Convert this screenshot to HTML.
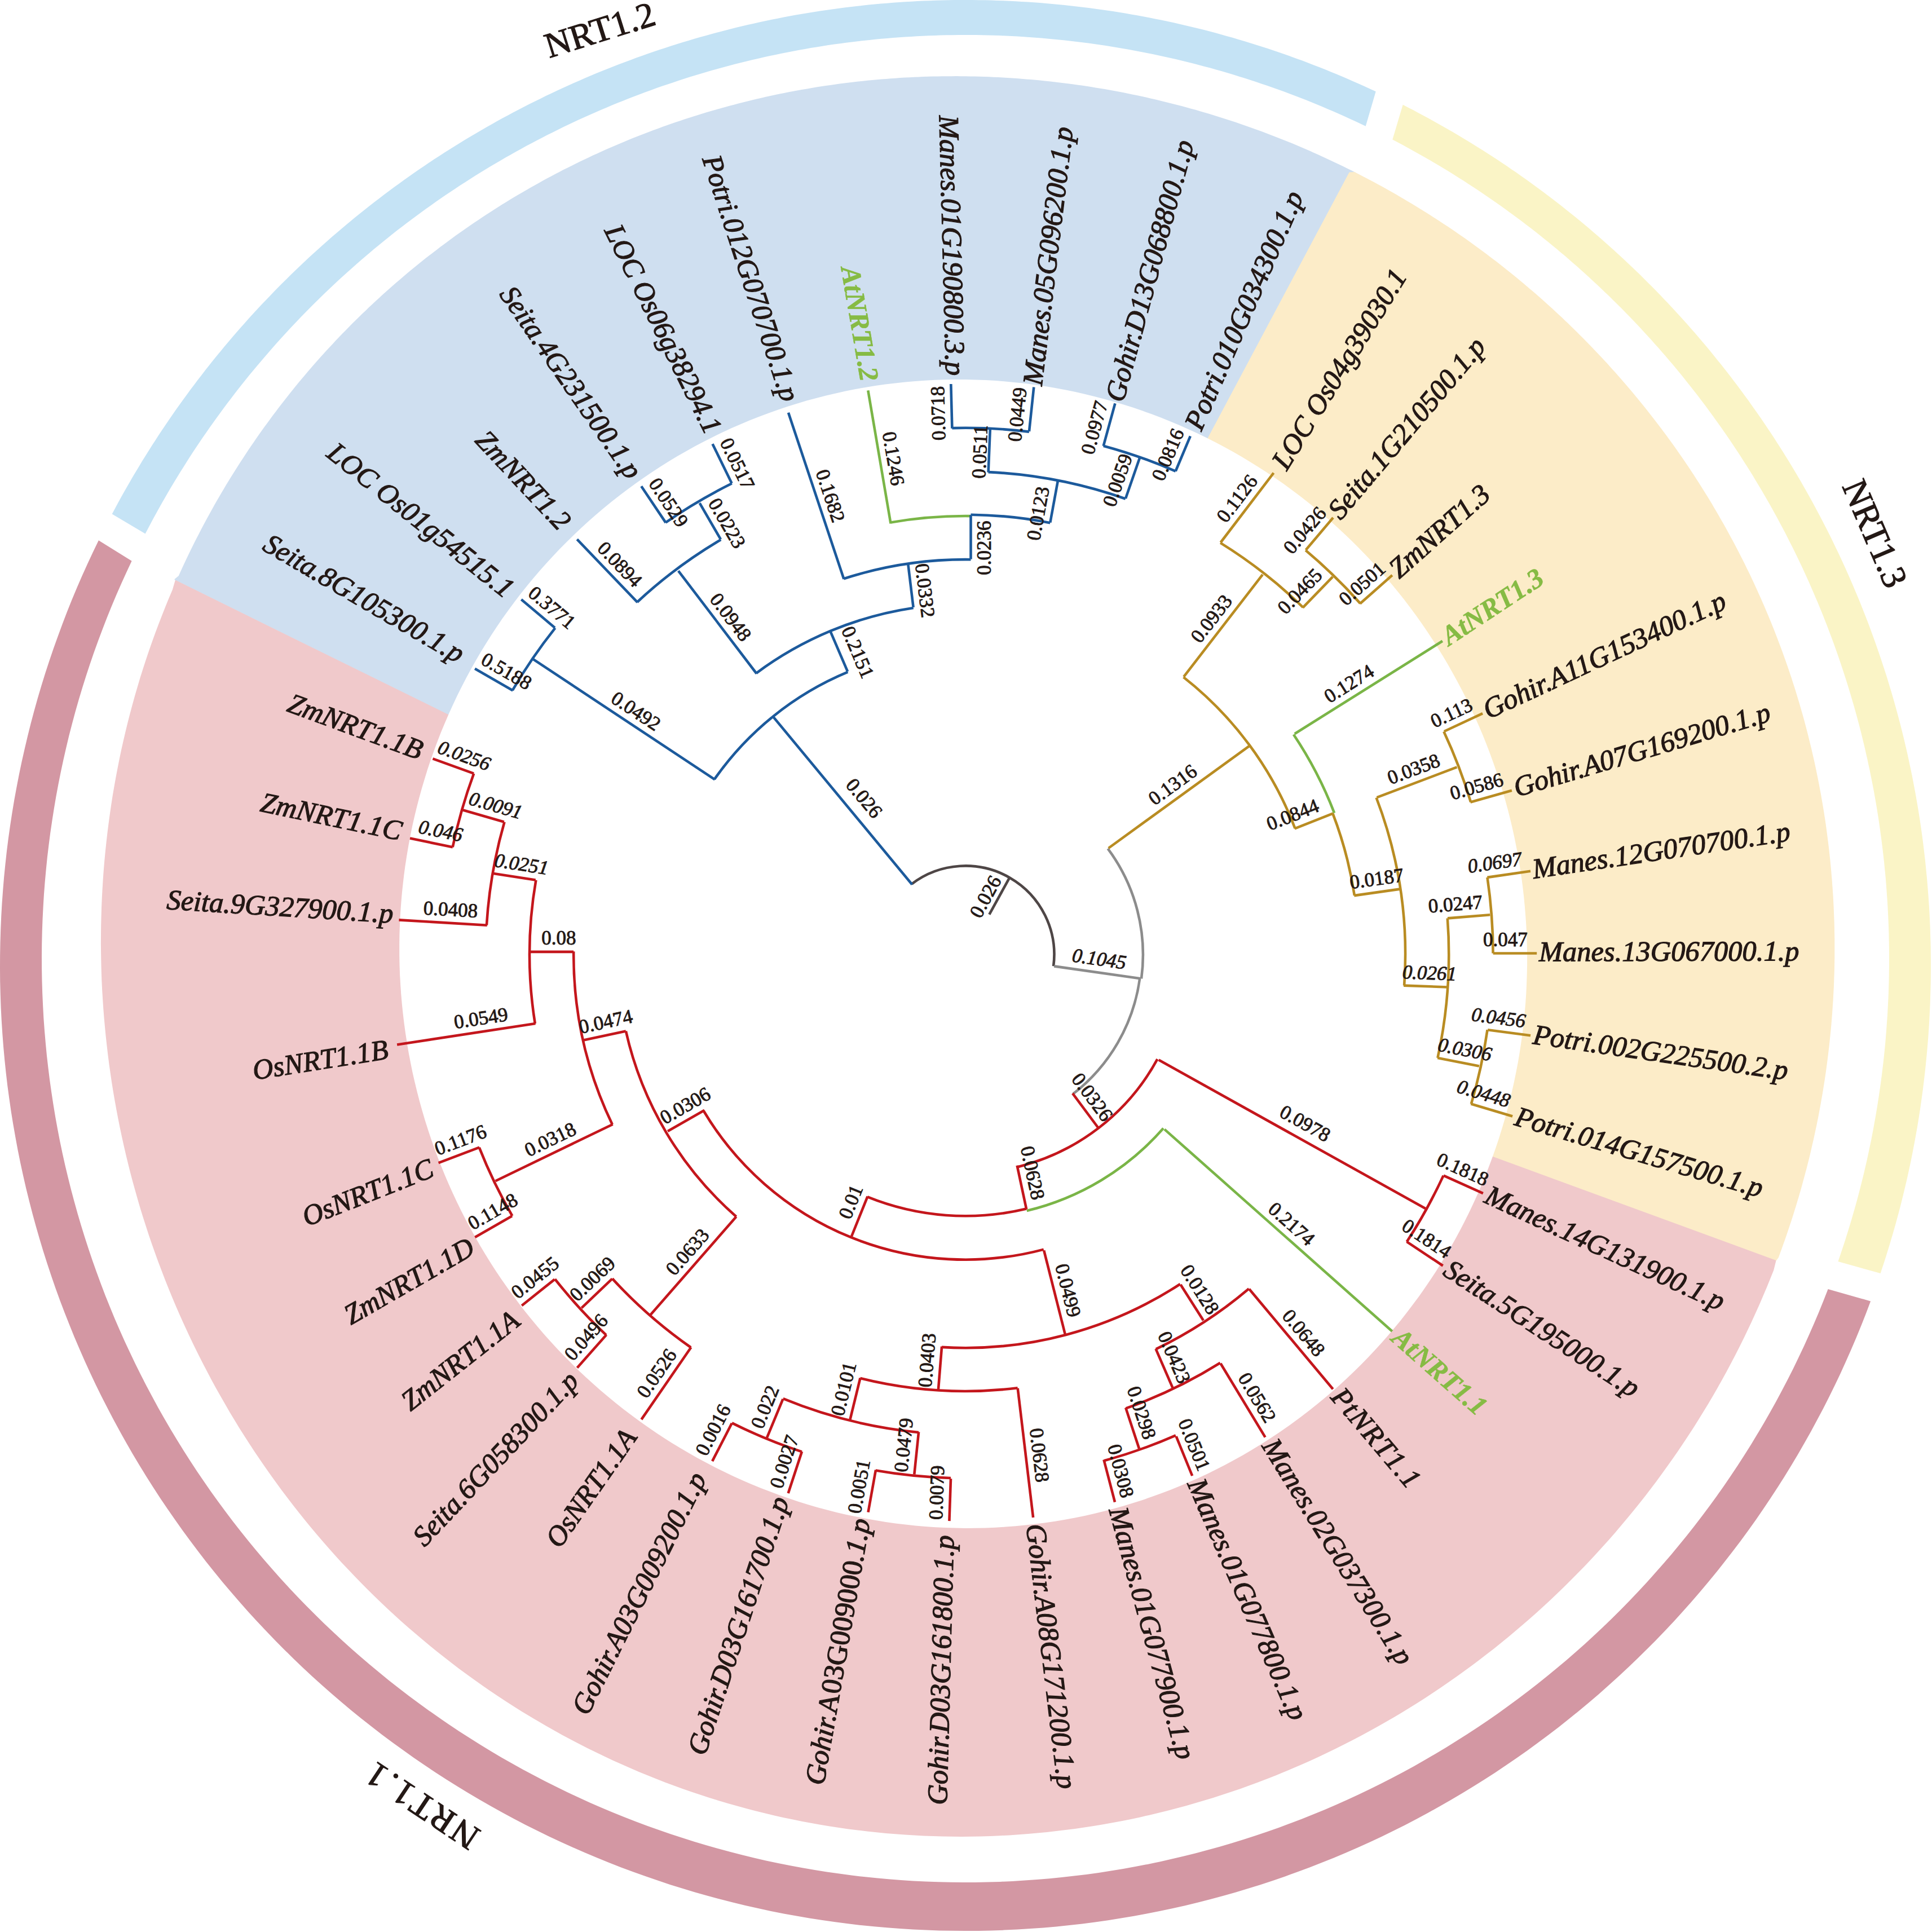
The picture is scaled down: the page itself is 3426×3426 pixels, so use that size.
<!DOCTYPE html><html><head><meta charset="utf-8"><style>html,body{margin:0;padding:0;background:#fff}svg{display:block}.t{font-family:"Liberation Serif",serif;font-size:50.5px;font-style:italic;fill:#231815;stroke:#231815;stroke-width:1.2px}.g{font-family:"Liberation Serif",serif;font-size:49px;font-style:italic;font-weight:bold;fill:#86bb44;stroke:#86bb44;stroke-width:0.6px}.b{font-family:"Liberation Serif",serif;font-size:35px;fill:#231815;stroke:#231815;stroke-width:0.9px;text-anchor:middle;dominant-baseline:central}.h{font-family:"Liberation Serif",serif;font-size:63px;fill:#231815;stroke:#231815;stroke-width:1.2px;text-anchor:middle}</style></head><body>
<svg width="3426" height="3426" viewBox="0 0 3426 3426">
<rect width="3426" height="3426" fill="#ffffff"/>
<path fill="#c5e3f5" d="M198.7,911.5 L203.8,901.9 L209.0,892.3 L214.2,882.8 L219.5,873.3 L224.8,863.9 L230.3,854.5 L235.7,845.1 L241.3,835.7 L246.9,826.4 L252.5,817.1 L258.2,807.9 L264.0,798.7 L269.8,789.5 L275.7,780.4 L281.6,771.3 L287.6,762.2 L293.7,753.2 L299.8,744.2 L306.0,735.3 L312.2,726.3 L318.5,717.5 L324.8,708.7 L331.2,699.9 L337.7,691.1 L344.2,682.4 L350.7,673.8 L357.4,665.2 L364.0,656.6 L370.8,648.0 L377.5,639.6 L384.4,631.1 L391.3,622.7 L398.2,614.3 L405.2,606.0 L412.2,597.7 L419.3,589.5 L426.5,581.3 L433.7,573.2 L440.9,565.1 L448.2,557.1 L455.6,549.1 L463.0,541.1 L470.5,533.2 L478.0,525.4 L485.5,517.6 L493.1,509.8 L500.8,502.1 L508.5,494.4 L516.2,486.8 L524.0,479.2 L531.9,471.7 L539.8,464.3 L547.7,456.8 L555.7,449.5 L563.8,442.2 L571.8,434.9 L580.0,427.7 L588.1,420.5 L596.4,413.4 L604.6,406.4 L612.9,399.4 L621.3,392.4 L629.7,385.5 L638.1,378.7 L646.6,371.9 L655.1,365.2 L663.7,358.5 L672.3,351.9 L681.0,345.3 L689.7,338.8 L698.4,332.3 L707.2,325.9 L716.0,319.6 L724.9,313.3 L733.7,307.0 L742.7,300.8 L751.7,294.7 L760.7,288.6 L769.7,282.6 L778.8,276.7 L787.9,270.8 L797.1,265.0 L806.3,259.2 L815.6,253.5 L824.8,247.8 L834.1,242.2 L843.5,236.7 L852.9,231.2 L862.3,225.8 L871.7,220.4 L881.2,215.1 L890.7,209.8 L900.3,204.7 L909.9,199.5 L919.5,194.5 L929.1,189.5 L938.8,184.5 L948.5,179.7 L958.3,174.9 L968.0,170.1 L977.8,165.4 L987.7,160.8 L997.5,156.2 L1007.4,151.7 L1017.3,147.3 L1027.3,142.9 L1037.3,138.6 L1047.3,134.3 L1057.3,130.1 L1067.3,126.0 L1077.4,122.0 L1087.5,118.0 L1097.6,114.0 L1107.8,110.2 L1118.0,106.4 L1128.2,102.6 L1138.4,98.9 L1148.7,95.3 L1158.9,91.8 L1169.2,88.3 L1179.5,84.9 L1189.9,81.6 L1200.2,78.3 L1210.6,75.1 L1221.0,71.9 L1231.4,68.8 L1241.9,65.8 L1252.3,62.9 L1262.8,60.0 L1273.3,57.2 L1283.8,54.4 L1294.3,51.7 L1304.9,49.1 L1315.4,46.6 L1326.0,44.1 L1336.6,41.7 L1347.2,39.3 L1357.9,37.0 L1368.5,34.8 L1379.1,32.7 L1389.8,30.6 L1400.5,28.6 L1411.2,26.6 L1421.9,24.8 L1432.6,23.0 L1443.3,21.2 L1454.1,19.5 L1464.8,17.9 L1475.6,16.4 L1486.3,14.9 L1497.1,13.5 L1507.9,12.2 L1518.7,11.0 L1529.5,9.8 L1540.3,8.6 L1551.1,7.6 L1561.9,6.6 L1572.7,5.7 L1583.6,4.8 L1594.4,4.0 L1605.3,3.3 L1616.1,2.7 L1627.0,2.1 L1637.8,1.6 L1648.7,1.2 L1659.5,0.8 L1670.4,0.5 L1681.3,0.3 L1692.1,0.1 L1703.0,0.0 L1713.8,0.0 L1724.7,0.0 L1735.6,0.2 L1746.4,0.3 L1757.3,0.6 L1768.2,0.9 L1779.0,1.3 L1789.9,1.8 L1800.7,2.3 L1811.6,2.9 L1822.4,3.6 L1833.3,4.3 L1844.1,5.1 L1854.9,6.0 L1865.8,6.9 L1876.6,7.9 L1887.4,9.0 L1898.2,10.2 L1909.0,11.4 L1919.8,12.7 L1930.6,14.0 L1941.3,15.4 L1952.1,16.9 L1962.9,18.5 L1973.6,20.1 L1984.3,21.8 L1995.1,23.6 L2005.8,25.4 L2016.5,27.3 L2027.2,29.3 L2037.8,31.3 L2048.5,33.4 L2059.1,35.6 L2069.8,37.8 L2080.4,40.1 L2091.0,42.5 L2101.6,44.9 L2112.2,47.4 L2122.7,50.0 L2133.2,52.6 L2143.8,55.3 L2154.3,58.1 L2164.8,61.0 L2175.2,63.9 L2185.7,66.8 L2196.1,69.9 L2206.5,73.0 L2216.9,76.2 L2227.3,79.4 L2237.6,82.7 L2248.0,86.1 L2258.3,89.5 L2268.6,93.0 L2278.8,96.6 L2289.1,100.2 L2299.3,103.9 L2309.5,107.6 L2319.7,111.5 L2329.8,115.4 L2339.9,119.3 L2350.0,123.3 L2360.1,127.4 L2370.1,131.6 L2380.2,135.8 L2390.1,140.0 L2400.1,144.4 L2410.0,148.8 L2420.0,153.2 L2429.8,157.8 L2439.7,162.3 L2421.7,223.7 L2412.2,219.2 L2402.7,214.8 L2393.2,210.4 L2383.6,206.0 L2374.0,201.7 L2364.4,197.5 L2354.7,193.4 L2345.0,189.3 L2335.3,185.2 L2325.6,181.3 L2315.8,177.3 L2306.0,173.5 L2296.2,169.7 L2286.3,166.0 L2276.5,162.3 L2266.6,158.7 L2256.7,155.2 L2246.8,151.8 L2236.8,148.4 L2226.8,145.0 L2216.8,141.7 L2206.8,138.5 L2196.8,135.4 L2186.7,132.3 L2176.7,129.3 L2166.6,126.3 L2156.5,123.5 L2146.3,120.6 L2136.2,117.9 L2126.0,115.2 L2115.8,112.6 L2105.6,110.0 L2095.4,107.5 L2085.2,105.1 L2074.9,102.7 L2064.7,100.4 L2054.4,98.2 L2044.1,96.0 L2033.8,93.9 L2023.5,91.9 L2013.1,89.9 L2002.8,88.0 L1992.4,86.2 L1982.1,84.4 L1971.7,82.7 L1961.3,81.1 L1950.9,79.5 L1940.5,78.0 L1930.1,76.6 L1919.7,75.2 L1909.2,73.9 L1898.8,72.7 L1888.3,71.5 L1877.9,70.4 L1867.4,69.4 L1856.9,68.4 L1846.4,67.5 L1836.0,66.7 L1825.5,65.9 L1815.0,65.2 L1804.5,64.6 L1794.0,64.1 L1783.5,63.6 L1773.0,63.1 L1762.5,62.8 L1751.9,62.5 L1741.4,62.3 L1730.9,62.1 L1720.4,62.0 L1709.9,62.0 L1699.4,62.0 L1688.8,62.2 L1678.3,62.3 L1667.8,62.6 L1657.3,62.9 L1646.8,63.3 L1636.3,63.8 L1625.8,64.3 L1615.3,64.9 L1604.8,65.5 L1594.3,66.2 L1583.8,67.0 L1573.3,67.9 L1562.8,68.8 L1552.4,69.8 L1541.9,70.9 L1531.5,72.0 L1521.0,73.2 L1510.6,74.4 L1500.1,75.8 L1489.7,77.2 L1479.3,78.6 L1468.9,80.1 L1458.5,81.7 L1448.1,83.4 L1437.7,85.1 L1427.4,86.9 L1417.0,88.8 L1406.7,90.7 L1396.4,92.7 L1386.0,94.8 L1375.7,96.9 L1365.5,99.1 L1355.2,101.3 L1344.9,103.7 L1334.7,106.0 L1324.5,108.5 L1314.3,111.0 L1304.1,113.6 L1293.9,116.3 L1283.7,119.0 L1273.6,121.8 L1263.5,124.6 L1253.3,127.5 L1243.3,130.5 L1233.2,133.5 L1223.1,136.6 L1213.1,139.8 L1203.1,143.1 L1193.1,146.4 L1183.2,149.7 L1173.2,153.1 L1163.3,156.6 L1153.4,160.2 L1143.5,163.8 L1133.7,167.5 L1123.8,171.2 L1114.0,175.0 L1104.3,178.9 L1094.5,182.8 L1084.8,186.8 L1075.1,190.9 L1065.4,195.0 L1055.8,199.2 L1046.1,203.4 L1036.5,207.8 L1027.0,212.1 L1017.4,216.6 L1007.9,221.0 L998.4,225.6 L989.0,230.2 L979.6,234.9 L970.2,239.6 L960.8,244.4 L951.5,249.3 L942.2,254.2 L932.9,259.1 L923.7,264.2 L914.5,269.3 L905.3,274.4 L896.2,279.6 L887.1,284.9 L878.0,290.2 L869.0,295.6 L860.0,301.0 L851.0,306.5 L842.1,312.1 L833.2,317.7 L824.3,323.4 L815.5,329.1 L806.7,334.9 L798.0,340.7 L789.3,346.6 L780.6,352.6 L772.0,358.6 L763.4,364.7 L754.8,370.8 L746.3,376.9 L737.8,383.2 L729.4,389.5 L721.0,395.8 L712.6,402.2 L704.3,408.6 L696.1,415.1 L687.8,421.7 L679.7,428.3 L671.5,434.9 L663.4,441.6 L655.3,448.4 L647.3,455.2 L639.4,462.1 L631.4,469.0 L623.6,475.9 L615.7,482.9 L607.9,490.0 L600.2,497.1 L592.5,504.3 L584.8,511.5 L577.2,518.8 L569.7,526.1 L562.1,533.4 L554.7,540.8 L547.3,548.3 L539.9,555.8 L532.6,563.3 L525.3,570.9 L518.1,578.6 L510.9,586.3 L503.8,594.0 L496.7,601.8 L489.7,609.6 L482.7,617.5 L475.8,625.4 L468.9,633.4 L462.1,641.4 L455.3,649.4 L448.6,657.5 L441.9,665.6 L435.3,673.8 L428.7,682.0 L422.2,690.3 L415.8,698.6 L409.4,706.9 L403.0,715.3 L396.7,723.7 L390.5,732.2 L384.3,740.7 L378.2,749.3 L372.1,757.8 L366.1,766.5 L360.1,775.1 L354.2,783.8 L348.3,792.6 L342.5,801.3 L336.8,810.1 L331.1,819.0 L325.5,827.9 L319.9,836.8 L314.4,845.8 L308.9,854.7 L303.5,863.8 L298.2,872.8 L292.9,881.9 L287.7,891.0 L282.5,900.2 L277.4,909.4 L272.4,918.6 L267.4,927.9 L262.5,937.2 L257.6,946.5 Z"/>
<path fill="#faf4c6" d="M2487.7,185.8 L2496.7,190.4 L2505.8,195.1 L2514.8,199.9 L2523.7,204.7 L2532.7,209.5 L2541.6,214.4 L2550.4,219.4 L2559.3,224.4 L2568.1,229.4 L2576.9,234.5 L2585.7,239.7 L2594.4,244.9 L2603.1,250.2 L2611.7,255.5 L2620.4,260.9 L2629.0,266.3 L2637.5,271.8 L2646.1,277.3 L2654.6,282.8 L2663.1,288.5 L2671.5,294.1 L2679.9,299.9 L2688.3,305.6 L2696.6,311.5 L2704.9,317.3 L2713.2,323.3 L2721.4,329.2 L2729.6,335.2 L2737.7,341.3 L2745.9,347.4 L2753.9,353.6 L2762.0,359.8 L2770.0,366.1 L2778.0,372.4 L2785.9,378.7 L2793.8,385.1 L2801.7,391.6 L2809.5,398.1 L2817.3,404.6 L2825.0,411.2 L2832.7,417.8 L2840.4,424.5 L2848.0,431.2 L2855.6,438.0 L2863.1,444.8 L2870.7,451.7 L2878.1,458.6 L2885.5,465.5 L2892.9,472.5 L2900.3,479.5 L2907.6,486.6 L2914.8,493.7 L2922.0,500.9 L2929.2,508.1 L2936.3,515.3 L2943.4,522.6 L2950.4,530.0 L2957.4,537.3 L2964.4,544.8 L2971.3,552.2 L2978.2,559.7 L2985.0,567.3 L2991.8,574.8 L2998.5,582.5 L3005.2,590.1 L3011.8,597.8 L3018.4,605.6 L3025.0,613.3 L3031.5,621.1 L3037.9,629.0 L3044.3,636.9 L3050.7,644.8 L3057.0,652.8 L3063.3,660.8 L3069.5,668.8 L3075.7,676.9 L3081.8,685.0 L3087.9,693.2 L3093.9,701.4 L3099.9,709.6 L3105.8,717.9 L3111.7,726.2 L3117.5,734.5 L3123.3,742.8 L3129.0,751.2 L3134.7,759.7 L3140.3,768.1 L3145.9,776.6 L3151.4,785.2 L3156.9,793.7 L3162.3,802.3 L3167.7,811.0 L3173.0,819.6 L3178.3,828.3 L3183.5,837.0 L3188.7,845.8 L3193.8,854.6 L3198.9,863.4 L3203.9,872.2 L3208.8,881.1 L3213.8,890.0 L3218.6,898.9 L3223.4,907.9 L3228.2,916.9 L3232.9,925.9 L3237.5,934.9 L3242.1,944.0 L3246.6,953.1 L3251.1,962.2 L3255.5,971.4 L3259.9,980.6 L3264.2,989.8 L3268.5,999.0 L3272.7,1008.3 L3276.8,1017.5 L3280.9,1026.8 L3285.0,1036.2 L3288.9,1045.5 L3292.9,1054.9 L3296.8,1064.3 L3300.6,1073.7 L3304.3,1083.2 L3308.0,1092.6 L3311.7,1102.1 L3315.3,1111.6 L3318.8,1121.2 L3322.3,1130.7 L3325.7,1140.3 L3329.1,1149.9 L3332.4,1159.5 L3335.6,1169.1 L3338.8,1178.8 L3342.0,1188.4 L3345.1,1198.1 L3348.1,1207.8 L3351.0,1217.6 L3354.0,1227.3 L3356.8,1237.1 L3359.6,1246.8 L3362.3,1256.6 L3365.0,1266.4 L3367.6,1276.3 L3370.2,1286.1 L3372.7,1296.0 L3375.1,1305.8 L3377.5,1315.7 L3379.8,1325.6 L3382.1,1335.5 L3384.3,1345.4 L3386.4,1355.4 L3388.5,1365.3 L3390.6,1375.3 L3392.5,1385.3 L3394.4,1395.2 L3396.3,1405.2 L3398.1,1415.3 L3399.8,1425.3 L3401.5,1435.3 L3403.1,1445.3 L3404.7,1455.4 L3406.2,1465.4 L3407.6,1475.5 L3409.0,1485.6 L3410.3,1495.7 L3411.5,1505.7 L3412.7,1515.8 L3413.9,1525.9 L3414.9,1536.1 L3415.9,1546.2 L3416.9,1556.3 L3417.8,1566.4 L3418.6,1576.5 L3419.4,1586.7 L3420.1,1596.8 L3420.8,1607.0 L3421.4,1617.1 L3421.9,1627.3 L3422.4,1637.4 L3422.8,1647.6 L3423.1,1657.7 L3423.4,1667.9 L3423.7,1678.1 L3423.8,1688.2 L3423.9,1698.4 L3424.0,1708.6 L3424.0,1718.7 L3423.9,1728.9 L3423.8,1739.1 L3423.6,1749.2 L3423.3,1759.4 L3423.0,1769.5 L3422.7,1779.7 L3422.2,1789.9 L3421.7,1800.0 L3421.2,1810.2 L3420.6,1820.3 L3419.9,1830.5 L3419.2,1840.6 L3418.4,1850.7 L3417.5,1860.9 L3416.6,1871.0 L3415.6,1881.1 L3414.6,1891.2 L3413.5,1901.3 L3412.3,1911.4 L3411.1,1921.5 L3409.9,1931.6 L3408.5,1941.7 L3407.1,1951.8 L3405.7,1961.8 L3404.2,1971.9 L3402.6,1981.9 L3401.0,1992.0 L3399.3,2002.0 L3397.5,2012.0 L3395.7,2022.0 L3393.8,2032.0 L3391.9,2042.0 L3389.9,2051.9 L3387.9,2061.9 L3385.8,2071.8 L3383.6,2081.8 L3381.4,2091.7 L3379.1,2101.6 L3376.7,2111.5 L3374.3,2121.4 L3371.9,2131.2 L3369.4,2141.1 L3366.8,2150.9 L3364.1,2160.7 L3361.5,2170.5 L3358.7,2180.3 L3355.9,2190.1 L3353.0,2199.8 L3350.1,2209.6 L3347.1,2219.3 L3344.1,2229.0 L3341.0,2238.7 L3337.8,2248.3 L3334.6,2258.0 L3259.5,2237.0 L3262.6,2227.8 L3265.7,2218.6 L3268.8,2209.3 L3271.8,2200.1 L3274.7,2190.8 L3277.6,2181.6 L3280.4,2172.3 L3283.2,2162.9 L3285.9,2153.6 L3288.6,2144.3 L3291.2,2134.9 L3293.8,2125.5 L3296.3,2116.1 L3298.7,2106.7 L3301.1,2097.3 L3303.4,2087.9 L3305.7,2078.4 L3307.9,2068.9 L3310.1,2059.5 L3312.2,2050.0 L3314.2,2040.5 L3316.2,2031.0 L3318.2,2021.4 L3320.0,2011.9 L3321.9,2002.3 L3323.6,1992.8 L3325.3,1983.2 L3327.0,1973.6 L3328.6,1964.1 L3330.1,1954.5 L3331.6,1944.8 L3333.0,1935.2 L3334.4,1925.6 L3335.7,1916.0 L3337.0,1906.3 L3338.1,1896.7 L3339.3,1887.0 L3340.4,1877.4 L3341.4,1867.7 L3342.4,1858.0 L3343.3,1848.4 L3344.1,1838.7 L3344.9,1829.0 L3345.6,1819.3 L3346.3,1809.6 L3347.0,1799.9 L3347.5,1790.2 L3348.0,1780.5 L3348.5,1770.8 L3348.9,1761.1 L3349.2,1751.4 L3349.5,1741.6 L3349.7,1731.9 L3349.8,1722.2 L3350.0,1712.5 L3350.0,1702.8 L3350.0,1693.0 L3349.9,1683.3 L3349.8,1673.6 L3349.6,1663.9 L3349.4,1654.2 L3349.1,1644.5 L3348.7,1634.7 L3348.3,1625.0 L3347.8,1615.3 L3347.3,1605.6 L3346.7,1595.9 L3346.0,1586.2 L3345.3,1576.5 L3344.6,1566.8 L3343.8,1557.1 L3342.9,1547.5 L3341.9,1537.8 L3341.0,1528.1 L3339.9,1518.5 L3338.8,1508.8 L3337.6,1499.1 L3336.4,1489.5 L3335.1,1479.9 L3333.8,1470.2 L3332.4,1460.6 L3331.0,1451.0 L3329.5,1441.4 L3327.9,1431.8 L3326.3,1422.2 L3324.6,1412.7 L3322.9,1403.1 L3321.1,1393.5 L3319.2,1384.0 L3317.3,1374.5 L3315.4,1364.9 L3313.3,1355.4 L3311.3,1345.9 L3309.1,1336.5 L3307.0,1327.0 L3304.7,1317.5 L3302.4,1308.1 L3300.1,1298.6 L3297.7,1289.2 L3295.2,1279.8 L3292.7,1270.4 L3290.1,1261.1 L3287.5,1251.7 L3284.8,1242.4 L3282.0,1233.0 L3279.2,1223.7 L3276.4,1214.4 L3273.5,1205.2 L3270.5,1195.9 L3267.5,1186.7 L3264.4,1177.5 L3261.3,1168.3 L3258.1,1159.1 L3254.9,1149.9 L3251.6,1140.8 L3248.2,1131.6 L3244.8,1122.5 L3241.4,1113.4 L3237.9,1104.4 L3234.3,1095.3 L3230.7,1086.3 L3227.0,1077.3 L3223.3,1068.3 L3219.5,1059.4 L3215.7,1050.4 L3211.8,1041.5 L3207.9,1032.6 L3203.9,1023.8 L3199.9,1014.9 L3195.8,1006.1 L3191.6,997.3 L3187.4,988.5 L3183.2,979.8 L3178.9,971.1 L3174.5,962.4 L3170.1,953.7 L3165.7,945.1 L3161.2,936.5 L3156.6,927.9 L3152.0,919.3 L3147.3,910.8 L3142.6,902.3 L3137.9,893.8 L3133.1,885.4 L3128.2,877.0 L3123.3,868.6 L3118.3,860.2 L3113.3,851.9 L3108.3,843.6 L3103.2,835.3 L3098.0,827.1 L3092.8,818.9 L3087.6,810.7 L3082.3,802.5 L3076.9,794.4 L3071.5,786.3 L3066.1,778.3 L3060.6,770.3 L3055.0,762.3 L3049.4,754.3 L3043.8,746.4 L3038.1,738.5 L3032.4,730.7 L3026.6,722.8 L3020.8,715.1 L3014.9,707.3 L3009.0,699.6 L3003.1,691.9 L2997.0,684.3 L2991.0,676.7 L2984.9,669.1 L2978.8,661.6 L2972.6,654.1 L2966.4,646.6 L2960.1,639.2 L2953.8,631.8 L2947.4,624.4 L2941.0,617.1 L2934.5,609.9 L2928.1,602.6 L2921.5,595.4 L2914.9,588.3 L2908.3,581.1 L2901.7,574.1 L2895.0,567.0 L2888.2,560.0 L2881.4,553.1 L2874.6,546.1 L2867.7,539.3 L2860.8,532.4 L2853.9,525.6 L2846.9,518.9 L2839.9,512.2 L2832.8,505.5 L2825.7,498.9 L2818.5,492.3 L2811.4,485.7 L2804.1,479.2 L2796.9,472.8 L2789.6,466.4 L2782.2,460.0 L2774.9,453.6 L2767.4,447.4 L2760.0,441.1 L2752.5,434.9 L2745.0,428.8 L2737.4,422.7 L2729.8,416.6 L2722.2,410.6 L2714.5,404.6 L2706.8,398.7 L2699.1,392.8 L2691.3,387.0 L2683.5,381.2 L2675.6,375.4 L2667.8,369.7 L2659.8,364.1 L2651.9,358.5 L2643.9,352.9 L2635.9,347.4 L2627.9,342.0 L2619.8,336.6 L2611.7,331.2 L2603.6,325.9 L2595.4,320.6 L2587.2,315.4 L2579.0,310.2 L2570.7,305.1 L2562.4,300.0 L2554.1,295.0 L2545.7,290.1 L2537.3,285.1 L2528.9,280.3 L2520.5,275.4 L2512.0,270.7 L2503.5,265.9 L2495.0,261.3 L2486.5,256.6 L2477.9,252.1 L2469.3,247.6 Z"/>
<path fill="#d397a3" d="M3317.1,2307.4 L3309.0,2329.0 L3300.5,2350.5 L3291.7,2371.9 L3282.6,2393.2 L3273.3,2414.3 L3263.7,2435.4 L3253.8,2456.3 L3243.6,2477.0 L3233.1,2497.7 L3222.3,2518.1 L3211.3,2538.5 L3200.0,2558.6 L3188.4,2578.7 L3176.6,2598.5 L3164.5,2618.2 L3152.1,2637.8 L3139.5,2657.1 L3126.6,2676.3 L3113.4,2695.4 L3100.0,2714.2 L3086.3,2732.9 L3072.4,2751.3 L3058.2,2769.6 L3043.8,2787.7 L3029.2,2805.6 L3014.3,2823.3 L2999.2,2840.8 L2983.8,2858.1 L2968.2,2875.2 L2952.4,2892.0 L2936.3,2908.7 L2920.0,2925.1 L2903.5,2941.3 L2886.8,2957.3 L2869.9,2973.1 L2852.7,2988.6 L2835.4,3003.9 L2817.8,3018.9 L2800.1,3033.8 L2782.1,3048.3 L2764.0,3062.7 L2745.6,3076.8 L2727.1,3090.6 L2708.4,3104.2 L2689.5,3117.5 L2670.4,3130.6 L2651.2,3143.4 L2631.7,3156.0 L2612.1,3168.3 L2592.4,3180.3 L2572.5,3192.0 L2552.4,3203.5 L2532.2,3214.8 L2511.8,3225.7 L2491.3,3236.4 L2470.6,3246.8 L2449.8,3256.9 L2428.9,3266.7 L2407.8,3276.2 L2386.6,3285.5 L2365.3,3294.5 L2343.8,3303.1 L2322.3,3311.5 L2300.6,3319.6 L2278.8,3327.4 L2257.0,3334.9 L2235.0,3342.2 L2212.9,3349.1 L2190.8,3355.7 L2168.5,3362.0 L2146.2,3368.0 L2123.8,3373.7 L2101.3,3379.2 L2078.7,3384.3 L2056.1,3389.1 L2033.4,3393.6 L2010.7,3397.7 L1987.9,3401.6 L1965.0,3405.2 L1942.1,3408.5 L1919.2,3411.4 L1896.2,3414.1 L1873.2,3416.4 L1850.2,3418.4 L1827.1,3420.1 L1804.0,3421.5 L1780.9,3422.6 L1757.8,3423.4 L1734.7,3423.9 L1711.5,3424.0 L1688.4,3423.8 L1665.3,3423.4 L1642.2,3422.6 L1619.1,3421.5 L1596.0,3420.1 L1572.9,3418.3 L1549.9,3416.3 L1526.9,3414.0 L1503.9,3411.3 L1480.9,3408.3 L1458.1,3405.1 L1435.2,3401.5 L1412.4,3397.6 L1389.7,3393.4 L1367.0,3388.9 L1344.4,3384.1 L1321.8,3378.9 L1299.3,3373.5 L1276.9,3367.8 L1254.6,3361.8 L1232.3,3355.4 L1210.2,3348.8 L1188.1,3341.9 L1166.1,3334.6 L1144.3,3327.1 L1122.5,3319.3 L1100.8,3311.2 L1079.3,3302.8 L1057.9,3294.1 L1036.5,3285.1 L1015.3,3275.8 L994.3,3266.3 L973.4,3256.5 L952.6,3246.3 L931.9,3235.9 L911.4,3225.3 L891.0,3214.3 L870.8,3203.1 L850.7,3191.6 L830.8,3179.8 L811.1,3167.8 L791.5,3155.5 L772.1,3142.9 L752.8,3130.1 L733.7,3117.0 L714.9,3103.6 L696.1,3090.0 L677.6,3076.2 L659.3,3062.1 L641.1,3047.7 L623.2,3033.2 L605.4,3018.3 L587.9,3003.3 L570.6,2988.0 L553.4,2972.4 L536.5,2956.7 L519.8,2940.7 L503.3,2924.4 L487.0,2908.0 L471.0,2891.3 L455.2,2874.5 L439.6,2857.4 L424.2,2840.1 L409.1,2822.6 L394.2,2804.9 L379.6,2787.0 L365.2,2768.9 L351.0,2750.6 L337.1,2732.1 L323.5,2713.4 L310.1,2694.6 L296.9,2675.6 L284.0,2656.4 L271.4,2637.0 L259.0,2617.4 L246.9,2597.7 L235.1,2577.9 L223.5,2557.8 L212.2,2537.6 L201.2,2517.3 L190.5,2496.8 L180.0,2476.2 L169.8,2455.4 L159.9,2434.5 L150.3,2413.5 L141.0,2392.3 L131.9,2371.0 L123.2,2349.6 L114.7,2328.1 L106.5,2306.5 L98.6,2284.7 L91.1,2262.9 L83.8,2240.9 L76.8,2218.9 L70.1,2196.8 L63.7,2174.5 L57.6,2152.2 L51.8,2129.8 L46.3,2107.4 L41.1,2084.8 L36.2,2062.2 L31.6,2039.5 L27.4,2016.8 L23.4,1994.0 L19.7,1971.2 L16.4,1948.3 L13.3,1925.4 L10.6,1902.4 L8.2,1879.4 L6.1,1856.4 L4.3,1833.3 L2.8,1810.2 L1.6,1787.1 L0.8,1764.0 L0.2,1740.9 L0.0,1717.8 L0.1,1694.6 L0.5,1671.5 L1.2,1648.4 L2.2,1625.3 L3.5,1602.2 L5.2,1579.1 L7.1,1556.1 L9.4,1533.1 L11.9,1510.1 L14.8,1487.1 L18.0,1464.2 L21.5,1441.4 L25.3,1418.5 L29.5,1395.8 L33.9,1373.1 L38.6,1350.4 L43.7,1327.9 L49.0,1305.4 L54.6,1282.9 L60.6,1260.6 L66.8,1238.3 L73.4,1216.1 L80.2,1194.0 L87.4,1172.1 L94.8,1150.2 L102.6,1128.4 L110.6,1106.7 L118.9,1085.1 L127.5,1063.6 L136.4,1042.3 L145.6,1021.1 L155.1,1000.0 L164.9,979.0 L174.9,958.2 L233.6,994.8 L224.3,1014.7 L215.2,1034.7 L206.4,1054.8 L197.9,1075.1 L189.6,1095.5 L181.7,1116.0 L174.0,1136.5 L166.5,1157.2 L159.4,1178.0 L152.5,1198.9 L145.9,1219.9 L139.6,1240.9 L133.6,1262.1 L127.9,1283.3 L122.4,1304.6 L117.3,1326.0 L112.4,1347.4 L107.8,1368.9 L103.5,1390.5 L99.5,1412.1 L95.8,1433.7 L92.4,1455.4 L89.2,1477.2 L86.4,1499.0 L83.8,1520.8 L81.6,1542.7 L79.6,1564.6 L77.9,1586.5 L76.6,1608.4 L75.5,1630.4 L74.7,1652.4 L74.2,1674.3 L74.0,1696.3 L74.1,1718.3 L74.5,1740.3 L75.2,1762.3 L76.2,1784.2 L77.4,1806.2 L79.0,1828.1 L80.9,1850.0 L83.0,1871.9 L85.5,1893.7 L88.2,1915.5 L91.3,1937.3 L94.6,1959.0 L98.2,1980.7 L102.1,2002.3 L106.3,2023.9 L110.8,2045.4 L115.6,2066.9 L120.7,2088.3 L126.0,2109.6 L131.7,2130.8 L137.6,2152.0 L143.8,2173.1 L150.3,2194.1 L157.1,2215.0 L164.1,2235.8 L171.5,2256.6 L179.1,2277.2 L186.9,2297.7 L195.1,2318.1 L203.5,2338.4 L212.2,2358.6 L221.2,2378.7 L230.5,2398.6 L240.0,2418.4 L249.7,2438.1 L259.8,2457.7 L270.1,2477.1 L280.6,2496.4 L291.4,2515.5 L302.5,2534.5 L313.8,2553.3 L325.4,2572.0 L337.2,2590.6 L349.3,2608.9 L361.6,2627.1 L374.2,2645.2 L387.0,2663.0 L400.1,2680.7 L413.3,2698.3 L426.8,2715.6 L440.6,2732.7 L454.6,2749.7 L468.8,2766.5 L483.2,2783.1 L497.8,2799.5 L512.7,2815.7 L527.8,2831.7 L543.1,2847.5 L558.6,2863.0 L574.3,2878.4 L590.2,2893.6 L606.3,2908.5 L622.6,2923.2 L639.2,2937.8 L655.9,2952.0 L672.8,2966.1 L689.8,2979.9 L707.1,2993.5 L724.6,3006.9 L742.2,3020.0 L760.0,3032.9 L778.0,3045.6 L796.1,3058.0 L814.4,3070.2 L832.9,3082.1 L851.5,3093.8 L870.3,3105.2 L889.2,3116.4 L908.3,3127.3 L927.5,3137.9 L946.9,3148.3 L966.4,3158.5 L986.0,3168.3 L1005.8,3177.9 L1025.7,3187.3 L1045.7,3196.4 L1065.9,3205.2 L1086.1,3213.7 L1106.5,3222.0 L1127.0,3230.0 L1147.6,3237.7 L1168.2,3245.1 L1189.0,3252.3 L1209.9,3259.1 L1230.9,3265.7 L1251.9,3272.1 L1273.1,3278.1 L1294.3,3283.8 L1315.6,3289.3 L1336.9,3294.5 L1358.4,3299.4 L1379.9,3304.0 L1401.4,3308.3 L1423.0,3312.3 L1444.7,3316.0 L1466.4,3319.5 L1488.2,3322.6 L1510.0,3325.5 L1531.8,3328.1 L1553.7,3330.3 L1575.5,3332.3 L1597.5,3334.0 L1619.4,3335.4 L1641.4,3336.5 L1663.3,3337.3 L1685.3,3337.8 L1707.3,3338.0 L1729.3,3337.9 L1751.2,3337.5 L1773.2,3336.9 L1795.2,3335.9 L1817.1,3334.6 L1839.0,3333.1 L1860.9,3331.2 L1882.8,3329.1 L1904.7,3326.6 L1926.5,3323.9 L1948.3,3320.9 L1970.0,3317.6 L1991.7,3313.9 L2013.3,3310.0 L2034.9,3305.9 L2056.4,3301.4 L2077.9,3296.6 L2099.3,3291.6 L2120.6,3286.2 L2141.8,3280.6 L2163.0,3274.7 L2184.1,3268.5 L2205.1,3262.0 L2226.0,3255.3 L2246.8,3248.2 L2267.6,3240.9 L2288.2,3233.3 L2308.7,3225.4 L2329.1,3217.3 L2349.4,3208.9 L2369.6,3200.2 L2389.7,3191.2 L2409.7,3182.0 L2429.5,3172.5 L2449.2,3162.7 L2468.7,3152.7 L2488.2,3142.4 L2507.5,3131.9 L2526.6,3121.1 L2545.6,3110.0 L2564.4,3098.7 L2583.1,3087.1 L2601.7,3075.3 L2620.1,3063.3 L2638.3,3051.0 L2656.3,3038.4 L2674.2,3025.6 L2691.9,3012.6 L2709.4,2999.3 L2726.8,2985.8 L2743.9,2972.1 L2760.9,2958.1 L2777.7,2943.9 L2794.3,2929.5 L2810.7,2914.9 L2826.9,2900.0 L2842.9,2884.9 L2858.7,2869.7 L2874.3,2854.2 L2889.7,2838.5 L2904.9,2822.6 L2919.8,2806.5 L2934.5,2790.1 L2949.1,2773.6 L2963.4,2756.9 L2977.4,2740.1 L2991.3,2723.0 L3004.9,2705.7 L3018.3,2688.3 L3031.4,2670.7 L3044.3,2652.9 L3057.0,2634.9 L3069.4,2616.8 L3081.6,2598.5 L3093.5,2580.0 L3105.2,2561.4 L3116.6,2542.6 L3127.8,2523.7 L3138.8,2504.6 L3149.4,2485.4 L3159.8,2466.0 L3170.0,2446.5 L3179.9,2426.9 L3189.5,2407.1 L3198.9,2387.3 L3207.9,2367.2 L3216.8,2347.1 L3225.3,2326.9 L3233.6,2306.5 L3241.6,2286.0 Z"/>
<path fill="#cfdff0" stroke="#cfdff0" stroke-width="2" stroke-linejoin="round" d="M1712.0,1720.0 L310.5,1027.6 L317.5,1021.8 L320.9,1014.3 L324.3,1006.8 L327.8,999.3 L331.3,991.9 L334.9,984.5 L338.5,977.0 L342.1,969.7 L345.8,962.3 L349.5,954.9 L353.3,947.6 L357.1,940.3 L360.9,933.0 L364.8,925.7 L368.7,918.4 L372.7,911.2 L376.7,904.0 L380.7,896.8 L384.8,889.6 L388.9,882.5 L393.1,875.3 L397.3,868.2 L401.5,861.1 L405.8,854.1 L410.1,847.0 L414.5,840.0 L418.9,833.0 L423.3,826.0 L427.8,819.1 L432.3,812.2 L436.8,805.3 L441.4,798.4 L446.0,791.5 L450.7,784.7 L455.4,777.9 L460.1,771.1 L464.9,764.4 L469.7,757.7 L474.6,751.0 L479.5,744.3 L484.4,737.6 L489.4,731.0 L494.4,724.4 L499.4,717.8 L504.5,711.3 L509.6,704.8 L514.7,698.3 L519.9,691.8 L525.1,685.4 L530.4,679.0 L535.7,672.6 L541.0,666.3 L546.4,660.0 L551.8,653.7 L557.2,647.5 L562.7,641.2 L568.2,635.0 L573.7,628.9 L579.3,622.7 L584.9,616.6 L590.6,610.6 L596.2,604.5 L602.0,598.5 L607.7,592.5 L613.5,586.6 L619.3,580.7 L625.1,574.8 L631.0,568.9 L636.9,563.1 L642.9,557.3 L648.9,551.6 L654.9,545.8 L660.9,540.1 L667.0,534.5 L673.1,528.9 L679.2,523.3 L685.4,517.7 L691.6,512.2 L697.8,506.7 L704.1,501.3 L710.4,495.9 L716.7,490.5 L723.1,485.1 L729.4,479.8 L735.9,474.6 L742.3,469.3 L748.8,464.1 L755.3,458.9 L761.8,453.8 L768.4,448.7 L775.0,443.7 L781.6,438.6 L788.2,433.7 L794.9,428.7 L801.6,423.8 L808.3,418.9 L815.1,414.1 L821.9,409.3 L828.7,404.5 L835.5,399.8 L842.4,395.1 L849.3,390.5 L856.2,385.9 L863.1,381.3 L870.1,376.8 L877.1,372.3 L884.1,367.8 L891.1,363.4 L898.2,359.1 L905.3,354.7 L912.4,350.4 L919.6,346.2 L926.7,342.0 L933.9,337.8 L941.1,333.7 L948.4,329.6 L955.6,325.5 L962.9,321.5 L970.2,317.5 L977.5,313.6 L984.9,309.7 L992.2,305.9 L999.6,302.0 L1007.0,298.3 L1014.5,294.6 L1021.9,290.9 L1029.4,287.2 L1036.9,283.6 L1044.4,280.1 L1051.9,276.5 L1059.5,273.1 L1067.0,269.6 L1074.6,266.2 L1082.2,262.9 L1089.8,259.6 L1097.5,256.3 L1105.2,253.1 L1112.8,249.9 L1120.5,246.8 L1128.2,243.7 L1136.0,240.6 L1143.7,237.6 L1151.5,234.7 L1159.3,231.7 L1167.1,228.9 L1174.9,226.0 L1182.7,223.2 L1190.5,220.5 L1198.4,217.8 L1206.3,215.1 L1214.1,212.5 L1222.0,209.9 L1229.9,207.4 L1237.9,204.9 L1245.8,202.4 L1253.8,200.0 L1261.7,197.7 L1269.7,195.4 L1277.7,193.1 L1285.7,190.9 L1293.7,188.7 L1301.7,186.6 L1309.8,184.5 L1317.8,182.4 L1325.9,180.4 L1333.9,178.4 L1342.0,176.5 L1350.1,174.7 L1358.2,172.8 L1366.3,171.0 L1374.4,169.3 L1382.6,167.6 L1390.7,166.0 L1398.8,164.3 L1407.0,162.8 L1415.1,161.3 L1423.3,159.8 L1431.5,158.4 L1439.7,157.0 L1447.9,155.6 L1456.1,154.3 L1464.3,153.1 L1472.5,151.9 L1480.7,150.7 L1488.9,149.6 L1497.1,148.5 L1505.3,147.5 L1513.6,146.5 L1521.8,145.6 L1530.1,144.7 L1538.3,143.8 L1546.6,143.0 L1554.8,142.3 L1563.1,141.6 L1571.3,140.9 L1579.6,140.3 L1587.9,139.7 L1596.2,139.1 L1604.4,138.6 L1612.7,138.2 L1621.0,137.8 L1629.3,137.4 L1637.5,137.1 L1645.8,136.8 L1654.1,136.6 L1662.4,136.4 L1670.7,136.3 L1678.9,136.2 L1687.2,136.2 L1695.5,136.1 L1703.8,136.2 L1712.1,136.3 L1720.4,136.4 L1728.6,136.6 L1736.9,136.8 L1745.2,137.0 L1753.5,137.3 L1761.7,137.7 L1770.0,138.1 L1778.3,138.5 L1786.5,139.0 L1794.8,139.5 L1803.0,140.1 L1811.3,140.7 L1819.5,141.4 L1827.8,142.1 L1836.0,142.8 L1844.2,143.6 L1852.5,144.4 L1860.7,145.3 L1868.9,146.2 L1877.1,147.2 L1885.3,148.2 L1893.5,149.2 L1901.7,150.3 L1909.9,151.4 L1918.1,152.6 L1926.3,153.8 L1934.5,155.1 L1942.6,156.4 L1950.8,157.7 L1958.9,159.1 L1967.1,160.6 L1975.2,162.0 L1983.3,163.6 L1991.4,165.1 L1999.5,166.7 L2007.6,168.4 L2015.7,170.1 L2023.8,171.8 L2031.9,173.6 L2039.9,175.4 L2048.0,177.2 L2056.0,179.1 L2064.0,181.1 L2072.0,183.1 L2080.0,185.1 L2088.0,187.1 L2096.0,189.3 L2104.0,191.4 L2111.9,193.6 L2119.9,195.8 L2127.8,198.1 L2135.7,200.4 L2143.6,202.8 L2151.5,205.2 L2159.4,207.6 L2167.3,210.1 L2175.2,212.6 L2183.0,215.2 L2190.8,217.8 L2198.6,220.4 L2206.4,223.1 L2214.2,225.9 L2222.0,228.6 L2229.7,231.4 L2237.5,234.3 L2245.2,237.2 L2252.9,240.1 L2260.6,243.1 L2268.3,246.1 L2276.0,249.1 L2283.6,252.2 L2291.2,255.3 L2298.8,258.5 L2306.4,261.7 L2314.0,265.0 L2321.6,268.2 L2329.1,271.6 L2336.6,274.9 L2344.1,278.3 L2351.6,281.8 L2359.1,285.3 L2366.5,288.8 L2374.0,292.3 L2381.4,295.9 L2388.8,299.6 L2396.2,303.2 L2403.5,307.0 L2410.6,311.2 L1655.0,1693.0 Z"/>
<path fill="#fcecc8" stroke="#fcecc8" stroke-width="2" stroke-linejoin="round" d="M1655.0,1693.0 L2393.2,306.5 L2401.9,306.1 L2408.7,309.6 L2415.4,313.1 L2422.2,316.6 L2428.9,320.1 L2435.6,323.7 L2442.3,327.4 L2449.0,331.0 L2455.7,334.7 L2462.3,338.4 L2469.0,342.2 L2475.6,345.9 L2482.2,349.8 L2488.7,353.6 L2495.3,357.5 L2501.8,361.4 L2508.3,365.3 L2514.8,369.3 L2521.3,373.3 L2527.8,377.3 L2534.2,381.4 L2540.6,385.5 L2547.0,389.6 L2553.4,393.8 L2559.8,398.0 L2566.1,402.2 L2572.4,406.4 L2578.7,410.7 L2585.0,415.0 L2591.2,419.4 L2597.5,423.7 L2603.7,428.1 L2609.9,432.6 L2616.0,437.0 L2622.2,441.5 L2628.3,446.0 L2634.4,450.6 L2640.5,455.2 L2646.5,459.8 L2652.6,464.4 L2658.6,469.1 L2664.6,473.8 L2670.5,478.5 L2676.5,483.2 L2682.4,488.0 L2688.3,492.8 L2694.2,497.7 L2700.0,502.5 L2705.8,507.4 L2711.6,512.4 L2717.4,517.3 L2723.2,522.3 L2728.9,527.3 L2734.6,532.3 L2740.3,537.4 L2745.9,542.5 L2751.5,547.6 L2757.1,552.8 L2762.7,557.9 L2768.3,563.1 L2773.8,568.4 L2779.3,573.6 L2784.8,578.9 L2790.2,584.2 L2795.6,589.5 L2801.0,594.9 L2806.4,600.3 L2811.7,605.7 L2817.1,611.1 L2822.4,616.6 L2827.6,622.1 L2832.9,627.6 L2838.1,633.1 L2843.2,638.7 L2848.4,644.3 L2853.5,649.9 L2858.6,655.6 L2863.7,661.2 L2868.7,666.9 L2873.8,672.6 L2878.7,678.4 L2883.7,684.1 L2888.6,689.9 L2893.5,695.7 L2898.4,701.6 L2903.2,707.4 L2908.1,713.3 L2912.8,719.2 L2917.6,725.2 L2922.3,731.1 L2927.0,737.1 L2931.7,743.1 L2936.3,749.1 L2940.9,755.2 L2945.5,761.2 L2950.1,767.3 L2954.6,773.4 L2959.1,779.6 L2963.5,785.7 L2968.0,791.9 L2972.4,798.1 L2976.7,804.3 L2981.1,810.6 L2985.4,816.9 L2989.6,823.1 L2993.9,829.4 L2998.1,835.8 L3002.3,842.1 L3006.4,848.5 L3010.5,854.9 L3014.6,861.3 L3018.7,867.7 L3022.7,874.2 L3026.7,880.6 L3030.6,887.1 L3034.6,893.6 L3038.4,900.2 L3042.3,906.7 L3046.1,913.3 L3049.9,919.9 L3053.7,926.5 L3057.4,933.1 L3061.1,939.7 L3064.8,946.4 L3068.4,953.1 L3072.0,959.8 L3075.6,966.5 L3079.1,973.2 L3082.6,979.9 L3086.0,986.7 L3089.5,993.5 L3092.9,1000.3 L3096.2,1007.1 L3099.6,1013.9 L3102.9,1020.8 L3106.1,1027.6 L3109.3,1034.5 L3112.5,1041.4 L3115.7,1048.3 L3118.8,1055.3 L3121.9,1062.2 L3124.9,1069.1 L3128.0,1076.1 L3130.9,1083.1 L3133.9,1090.1 L3136.8,1097.1 L3139.7,1104.1 L3142.5,1111.2 L3145.3,1118.2 L3148.1,1125.3 L3150.8,1132.4 L3153.5,1139.5 L3156.2,1146.6 L3158.8,1153.7 L3161.4,1160.9 L3164.0,1168.0 L3166.5,1175.2 L3169.0,1182.4 L3171.5,1189.5 L3173.9,1196.7 L3176.3,1203.9 L3178.6,1211.2 L3180.9,1218.4 L3183.2,1225.6 L3185.4,1232.9 L3187.6,1240.2 L3189.8,1247.4 L3191.9,1254.7 L3194.0,1262.0 L3196.1,1269.3 L3198.1,1276.6 L3200.1,1284.0 L3202.0,1291.3 L3203.9,1298.6 L3205.8,1306.0 L3207.6,1313.4 L3209.4,1320.7 L3211.2,1328.1 L3212.9,1335.5 L3214.6,1342.9 L3216.3,1350.3 L3217.9,1357.7 L3219.5,1365.1 L3221.0,1372.6 L3222.5,1380.0 L3224.0,1387.4 L3225.4,1394.9 L3226.8,1402.4 L3228.2,1409.8 L3229.5,1417.3 L3230.8,1424.8 L3232.0,1432.2 L3233.3,1439.7 L3234.4,1447.2 L3235.6,1454.7 L3236.7,1462.2 L3237.7,1469.7 L3238.7,1477.2 L3239.7,1484.8 L3240.7,1492.3 L3241.6,1499.8 L3242.5,1507.3 L3243.3,1514.9 L3244.1,1522.4 L3244.9,1530.0 L3245.6,1537.5 L3246.3,1545.1 L3246.9,1552.6 L3247.6,1560.2 L3248.1,1567.7 L3248.7,1575.3 L3249.2,1582.9 L3249.7,1590.4 L3250.1,1598.0 L3250.5,1605.6 L3250.8,1613.1 L3251.1,1620.7 L3251.4,1628.3 L3251.7,1635.8 L3251.9,1643.4 L3252.0,1651.0 L3252.2,1658.6 L3252.3,1666.1 L3252.3,1673.7 L3252.3,1681.3 L3252.3,1688.9 L3252.3,1696.4 L3252.2,1704.0 L3252.1,1711.6 L3251.9,1719.2 L3251.7,1726.7 L3251.4,1734.3 L3251.2,1741.9 L3250.9,1749.4 L3250.5,1757.0 L3250.1,1764.6 L3249.7,1772.1 L3249.2,1779.7 L3248.7,1787.2 L3248.2,1794.8 L3247.6,1802.3 L3247.0,1809.9 L3246.4,1817.4 L3245.7,1825.0 L3245.0,1832.5 L3244.2,1840.0 L3243.4,1847.6 L3242.6,1855.1 L3241.7,1862.6 L3240.8,1870.1 L3239.9,1877.6 L3238.9,1885.1 L3237.9,1892.6 L3236.9,1900.1 L3235.8,1907.6 L3234.7,1915.1 L3233.5,1922.6 L3232.3,1930.1 L3231.1,1937.5 L3229.8,1945.0 L3228.5,1952.4 L3227.2,1959.9 L3225.8,1967.3 L3224.4,1974.8 L3223.0,1982.2 L3221.5,1989.6 L3220.0,1997.0 L3218.4,2004.4 L3216.8,2011.8 L3215.2,2019.2 L3213.5,2026.6 L3211.8,2034.0 L3210.1,2041.3 L3208.4,2048.7 L3206.6,2056.0 L3204.7,2063.4 L3202.9,2070.7 L3200.9,2078.0 L3199.0,2085.3 L3197.0,2092.6 L3195.0,2099.9 L3193.0,2107.2 L3190.9,2114.5 L3188.8,2121.7 L3186.6,2129.0 L3184.5,2136.2 L3182.2,2143.5 L3180.0,2150.7 L3177.7,2157.9 L3175.4,2165.1 L3173.0,2172.3 L3170.6,2179.4 L3168.2,2186.6 L3165.8,2193.8 L3163.3,2200.9 L3160.7,2208.0 L3158.2,2215.1 L3155.6,2222.2 L3153.0,2229.3 L3148.4,2235.7 L1712.0,1709.0 Z"/>
<path fill="#f0c9cb" stroke="#f0c9cb" stroke-width="2" stroke-linejoin="round" d="M1712.0,1709.0 L3148.4,2235.7 L3144.4,2251.8 L3138.3,2267.2 L3132.0,2282.5 L3125.6,2297.7 L3119.1,2312.8 L3112.3,2327.9 L3105.5,2342.9 L3098.4,2357.9 L3091.2,2372.8 L3083.9,2387.6 L3076.4,2402.3 L3068.8,2416.9 L3061.0,2431.5 L3053.0,2446.0 L3044.9,2460.4 L3036.7,2474.7 L3028.3,2488.9 L3019.7,2503.1 L3011.1,2517.1 L3002.2,2531.1 L2993.2,2545.0 L2984.1,2558.8 L2974.9,2572.4 L2965.5,2586.0 L2955.9,2599.5 L2946.2,2613.0 L2936.4,2626.3 L2926.5,2639.5 L2916.4,2652.6 L2906.1,2665.6 L2895.8,2678.5 L2885.3,2691.2 L2874.6,2703.9 L2863.9,2716.5 L2853.0,2729.0 L2841.9,2741.3 L2830.8,2753.5 L2819.5,2765.7 L2808.1,2777.7 L2796.5,2789.6 L2784.9,2801.3 L2773.1,2813.0 L2761.2,2824.5 L2749.2,2835.9 L2737.0,2847.2 L2724.7,2858.4 L2712.3,2869.4 L2699.8,2880.3 L2687.2,2891.1 L2674.5,2901.7 L2661.6,2912.2 L2648.7,2922.6 L2635.6,2932.8 L2622.4,2942.9 L2609.1,2952.9 L2595.7,2962.7 L2582.2,2972.4 L2568.6,2982.0 L2554.9,2991.4 L2541.1,3000.7 L2527.2,3009.8 L2513.1,3018.8 L2499.0,3027.6 L2484.8,3036.3 L2470.5,3044.8 L2456.1,3053.2 L2441.6,3061.4 L2427.1,3069.4 L2412.4,3077.4 L2397.6,3085.1 L2382.8,3092.7 L2367.9,3100.1 L2352.9,3107.4 L2337.8,3114.5 L2322.6,3121.5 L2307.3,3128.3 L2292.0,3134.9 L2276.6,3141.4 L2261.1,3147.7 L2245.6,3153.8 L2230.0,3159.8 L2214.3,3165.5 L2198.6,3171.2 L2182.8,3176.6 L2166.9,3181.9 L2151.0,3187.0 L2135.0,3191.9 L2118.9,3196.6 L2102.8,3201.2 L2086.7,3205.6 L2070.5,3209.8 L2054.2,3213.8 L2037.9,3217.7 L2021.6,3221.4 L2005.2,3224.9 L1988.7,3228.2 L1972.3,3231.3 L1955.8,3234.2 L1939.2,3237.0 L1922.7,3239.6 L1906.1,3241.9 L1889.5,3244.1 L1872.8,3246.1 L1856.1,3248.0 L1839.4,3249.6 L1822.7,3251.0 L1806.0,3252.3 L1789.2,3253.4 L1772.5,3254.2 L1755.7,3254.9 L1738.9,3255.4 L1722.1,3255.7 L1705.4,3255.9 L1688.6,3255.8 L1671.8,3255.5 L1655.0,3255.1 L1638.2,3254.4 L1621.4,3253.6 L1604.7,3252.5 L1587.9,3251.3 L1571.2,3249.9 L1554.5,3248.3 L1537.8,3246.5 L1521.1,3244.5 L1504.5,3242.4 L1487.8,3240.0 L1471.3,3237.4 L1454.7,3234.7 L1438.2,3231.8 L1421.7,3228.7 L1405.2,3225.3 L1388.8,3221.9 L1372.4,3218.2 L1356.1,3214.3 L1339.8,3210.3 L1323.6,3206.0 L1307.4,3201.6 L1291.2,3197.0 L1275.2,3192.2 L1259.1,3187.2 L1243.2,3182.1 L1227.3,3176.7 L1211.4,3171.2 L1195.7,3165.5 L1180.0,3159.7 L1164.3,3153.6 L1148.8,3147.4 L1133.3,3141.0 L1117.9,3134.4 L1102.6,3127.7 L1087.3,3120.8 L1072.1,3113.7 L1057.1,3106.4 L1042.1,3099.0 L1027.1,3091.4 L1012.3,3083.7 L997.6,3075.8 L983.0,3067.7 L968.4,3059.4 L954.0,3051.0 L939.6,3042.5 L925.4,3033.8 L911.2,3024.9 L897.2,3015.9 L883.2,3006.7 L869.4,2997.4 L855.7,2987.9 L842.0,2978.3 L828.5,2968.5 L815.1,2958.6 L801.8,2948.5 L788.7,2938.3 L775.6,2927.9 L762.7,2917.5 L749.9,2906.8 L737.2,2896.1 L724.6,2885.2 L712.1,2874.2 L699.8,2863.0 L687.6,2851.7 L675.5,2840.3 L663.6,2828.8 L651.7,2817.1 L640.1,2805.3 L628.5,2793.4 L617.1,2781.4 L605.7,2769.3 L594.6,2757.0 L583.5,2744.6 L572.6,2732.2 L561.9,2719.6 L551.2,2706.9 L540.8,2694.1 L530.4,2681.1 L520.2,2668.1 L510.1,2655.0 L500.2,2641.8 L490.4,2628.5 L480.7,2615.0 L471.2,2601.5 L461.9,2587.9 L452.6,2574.2 L443.6,2560.4 L434.6,2546.5 L425.8,2532.6 L417.2,2518.5 L408.7,2504.4 L400.4,2490.1 L392.2,2475.8 L384.1,2461.4 L376.2,2447.0 L368.5,2432.4 L360.9,2417.8 L353.4,2403.1 L346.1,2388.4 L339.0,2373.5 L332.0,2358.6 L325.1,2343.7 L318.4,2328.6 L311.9,2313.5 L305.5,2298.4 L299.3,2283.2 L293.2,2267.9 L287.3,2252.5 L281.5,2237.1 L275.9,2221.7 L270.4,2206.2 L265.1,2190.6 L260.0,2175.0 L255.0,2159.4 L250.1,2143.7 L245.5,2127.9 L241.0,2112.1 L236.6,2096.3 L232.4,2080.4 L228.4,2064.5 L224.5,2048.5 L220.8,2032.5 L217.2,2016.4 L213.8,2000.4 L210.6,1984.3 L207.5,1968.1 L204.6,1952.0 L201.8,1935.8 L199.2,1919.5 L196.8,1903.3 L194.5,1887.0 L192.4,1870.7 L190.5,1854.4 L188.7,1838.1 L187.1,1821.7 L185.6,1805.3 L184.3,1788.9 L183.2,1772.5 L182.2,1756.1 L181.4,1739.7 L180.8,1723.2 L180.4,1706.8 L180.1,1690.3 L179.9,1673.9 L180.0,1657.4 L180.2,1641.0 L180.6,1624.5 L181.1,1608.0 L181.8,1591.6 L182.7,1575.1 L183.7,1558.7 L184.9,1542.2 L186.3,1525.8 L187.9,1509.4 L189.6,1493.0 L191.5,1476.6 L193.6,1460.2 L195.8,1443.9 L198.2,1427.5 L200.7,1411.2 L203.5,1394.9 L206.4,1378.7 L209.5,1362.4 L212.7,1346.2 L216.1,1330.0 L219.7,1313.9 L223.5,1297.8 L227.4,1281.7 L231.5,1265.7 L235.8,1249.7 L240.2,1233.7 L244.9,1217.8 L249.6,1201.9 L254.6,1186.1 L259.7,1170.3 L265.0,1154.6 L270.5,1138.9 L276.1,1123.3 L281.9,1107.8 L287.9,1092.3 L294.0,1076.8 L300.3,1061.5 L306.8,1046.1 L311.5,1030.0 L1712.0,1720.0 Z"/>
<path fill="#ffffff" d="M2708.1,1693.0 L2708.1,1710.4 L2707.7,1727.8 L2707.1,1745.2 L2706.3,1762.5 L2705.1,1779.9 L2703.6,1797.2 L2701.8,1814.5 L2699.8,1831.8 L2697.4,1849.1 L2694.8,1866.3 L2691.9,1883.5 L2688.6,1900.6 L2685.1,1917.7 L2681.3,1934.7 L2677.2,1951.6 L2672.8,1968.5 L2668.2,1985.3 L2663.2,2002.1 L2658.0,2018.7 L2652.5,2035.3 L2646.6,2051.8 L2640.5,2068.2 L2634.2,2084.4 L2627.5,2100.6 L2620.6,2116.7 L2613.4,2132.6 L2605.9,2148.5 L2598.1,2164.2 L2590.1,2179.7 L2581.8,2195.2 L2573.2,2210.4 L2564.3,2225.6 L2555.2,2240.6 L2545.8,2255.4 L2536.2,2270.1 L2526.3,2284.6 L2516.2,2299.0 L2505.7,2313.1 L2495.1,2327.1 L2484.2,2340.9 L2473.0,2354.6 L2461.6,2368.0 L2450.0,2381.2 L2438.1,2394.2 L2426.1,2407.1 L2413.7,2419.7 L2401.2,2432.0 L2388.4,2444.2 L2375.4,2456.2 L2362.2,2467.9 L2348.8,2479.3 L2335.1,2490.6 L2321.3,2501.6 L2307.3,2512.3 L2293.1,2522.8 L2278.7,2533.1 L2264.1,2543.1 L2249.3,2552.8 L2234.3,2562.3 L2219.2,2571.5 L2203.9,2580.4 L2188.5,2589.1 L2172.8,2597.5 L2157.1,2605.5 L2141.2,2613.4 L2125.1,2620.9 L2108.9,2628.1 L2092.6,2635.1 L2076.2,2641.7 L2059.6,2648.1 L2042.9,2654.1 L2026.1,2659.9 L2009.3,2665.3 L1992.3,2670.4 L1975.2,2675.3 L1958.0,2679.8 L1940.8,2684.0 L1923.5,2687.9 L1906.1,2691.5 L1888.6,2694.7 L1871.1,2697.7 L1853.6,2700.3 L1836.0,2702.6 L1818.3,2704.6 L1800.7,2706.3 L1783.0,2707.6 L1765.2,2708.7 L1747.5,2709.4 L1729.7,2709.8 L1712.0,2709.9 L1694.3,2709.6 L1676.5,2709.0 L1658.8,2708.2 L1641.1,2706.9 L1623.4,2705.4 L1605.8,2703.6 L1588.2,2701.4 L1570.6,2698.9 L1553.1,2696.1 L1535.7,2693.0 L1518.3,2689.6 L1501.0,2685.9 L1483.7,2681.9 L1466.5,2677.5 L1449.4,2672.9 L1432.4,2667.9 L1415.5,2662.7 L1398.7,2657.1 L1382.0,2651.3 L1365.5,2645.1 L1349.0,2638.7 L1332.6,2632.0 L1316.4,2625.0 L1300.3,2617.7 L1284.3,2610.1 L1268.5,2602.2 L1252.9,2594.1 L1237.3,2585.7 L1222.0,2577.1 L1206.7,2568.1 L1191.7,2558.9 L1176.8,2549.5 L1162.1,2539.8 L1147.6,2529.8 L1133.2,2519.6 L1119.0,2509.1 L1105.1,2498.4 L1091.3,2487.5 L1077.7,2476.3 L1064.3,2464.9 L1051.1,2453.3 L1038.1,2441.4 L1025.3,2429.4 L1012.8,2417.1 L1000.4,2404.6 L988.3,2391.9 L976.4,2379.0 L964.7,2365.9 L953.2,2352.6 L942.0,2339.1 L931.0,2325.4 L920.3,2311.5 L909.8,2297.5 L899.5,2283.3 L889.5,2268.9 L879.7,2254.4 L870.2,2239.7 L860.9,2224.8 L851.9,2209.8 L843.2,2194.6 L834.7,2179.3 L826.4,2163.9 L818.4,2148.3 L810.7,2132.6 L803.3,2116.7 L796.1,2100.8 L789.2,2084.7 L782.6,2068.5 L776.2,2052.2 L770.1,2035.8 L764.3,2019.3 L758.8,2002.7 L753.5,1986.0 L748.6,1969.3 L743.9,1952.4 L739.5,1935.5 L735.4,1918.5 L731.5,1901.4 L728.0,1884.3 L724.7,1867.1 L721.8,1849.8 L719.1,1832.5 L716.7,1815.2 L714.6,1797.8 L712.8,1780.4 L711.3,1763.0 L710.1,1745.5 L709.1,1728.0 L708.5,1710.5 L708.2,1693.0 L708.2,1675.5 L708.4,1658.0 L709.0,1640.4 L709.8,1622.9 L711.0,1605.4 L712.4,1587.9 L714.2,1570.5 L716.2,1553.1 L718.5,1535.7 L721.2,1518.3 L724.1,1501.0 L727.3,1483.7 L730.8,1466.5 L734.7,1449.3 L738.8,1432.2 L743.2,1415.2 L747.9,1398.2 L752.9,1381.4 L758.1,1364.6 L763.7,1347.8 L769.6,1331.2 L775.7,1314.7 L782.1,1298.3 L788.9,1282.0 L795.9,1265.8 L803.2,1249.7 L810.7,1233.8 L818.6,1218.0 L826.7,1202.3 L835.1,1186.7 L843.8,1171.3 L852.7,1156.1 L861.9,1140.9 L871.4,1126.0 L881.1,1111.2 L891.1,1096.6 L901.4,1082.2 L911.9,1067.9 L922.7,1053.8 L933.7,1040.0 L945.0,1026.3 L956.5,1012.8 L968.3,999.5 L980.3,986.4 L992.5,973.5 L1005.0,960.9 L1017.7,948.4 L1030.6,936.2 L1043.7,924.2 L1057.1,912.5 L1070.6,901.0 L1084.4,889.7 L1098.4,878.7 L1112.6,867.9 L1126.9,857.4 L1141.5,847.2 L1156.2,837.2 L1171.1,827.5 L1186.2,818.0 L1201.5,808.8 L1217.0,799.9 L1232.5,791.3 L1248.3,782.9 L1264.2,774.9 L1280.3,767.1 L1296.4,759.6 L1312.8,752.5 L1329.2,745.6 L1345.8,739.0 L1362.5,732.7 L1379.3,726.7 L1396.2,721.1 L1413.2,715.7 L1430.3,710.6 L1447.5,705.9 L1464.8,701.5 L1482.1,697.4 L1499.6,693.6 L1517.1,690.1 L1534.6,686.9 L1552.2,684.1 L1569.9,681.6 L1587.5,679.4 L1605.3,677.5 L1623.0,675.9 L1640.8,674.7 L1658.6,673.8 L1676.4,673.2 L1694.2,673.0 L1712.0,673.0 L1729.8,673.4 L1747.6,674.1 L1765.3,675.1 L1783.1,676.5 L1800.8,678.2 L1818.5,680.1 L1836.1,682.5 L1853.7,685.1 L1871.2,688.0 L1888.6,691.3 L1906.0,694.8 L1923.3,698.7 L1940.6,702.9 L1957.7,707.4 L1974.8,712.2 L1991.8,717.2 L2008.7,722.6 L2025.4,728.3 L2042.1,734.3 L2058.6,740.6 L2075.1,747.2 L2091.4,754.0 L2107.5,761.2 L2123.6,768.6 L2139.5,776.3 L2155.2,784.3 L2170.8,792.5 L2186.3,801.1 L2201.5,809.8 L2216.7,818.9 L2231.6,828.2 L2246.4,837.8 L2261.0,847.6 L2275.5,857.6 L2289.7,868.0 L2303.8,878.5 L2317.6,889.3 L2331.3,900.3 L2344.8,911.6 L2358.1,923.1 L2371.1,934.8 L2384.0,946.7 L2396.6,958.8 L2409.1,971.2 L2421.3,983.7 L2433.3,996.5 L2445.0,1009.4 L2456.6,1022.6 L2467.9,1035.9 L2479.0,1049.4 L2489.8,1063.1 L2500.4,1077.0 L2510.8,1091.1 L2520.9,1105.3 L2530.8,1119.7 L2540.4,1134.2 L2549.8,1148.9 L2558.9,1163.8 L2567.8,1178.8 L2576.4,1193.9 L2584.7,1209.2 L2592.8,1224.6 L2600.7,1240.2 L2608.2,1255.9 L2615.6,1271.7 L2622.6,1287.6 L2629.4,1303.6 L2635.9,1319.7 L2642.1,1336.0 L2648.0,1352.3 L2653.7,1368.7 L2659.1,1385.3 L2664.3,1401.9 L2669.1,1418.6 L2673.7,1435.3 L2678.0,1452.2 L2682.0,1469.1 L2685.7,1486.0 L2689.1,1503.1 L2692.3,1520.1 L2695.2,1537.3 L2697.8,1554.5 L2700.1,1571.7 L2702.1,1588.9 L2703.8,1606.2 L2705.2,1623.5 L2706.4,1640.9 L2707.2,1658.2 L2707.8,1675.6 Z"/>
<g stroke-width="4.6" fill="none" stroke-linecap="butt">
<path fill="none" stroke="#4e4646" d="M1616.7,1567.6 A157.4,157.4 0 0 1 1868.1,1713.3"/>
<path fill="none" stroke="#8c8c8c" d="M1964.5,1504.9 A314.9,314.9 0 0 1 2024.0,1735.4"/>
<path fill="none" stroke="#8c8c8c" d="M2021.2,1735.0 A312.1,312.1 0 0 1 1902.8,1939.9"/>
<path fill="none" stroke="#1c5a9c" d="M1266.9,1381.9 A543.0,543.0 0 0 1 1503.4,1191.7"/>
<path fill="none" stroke="#1c5a9c" d="M908.8,1224.2 A930.0,930.0 0 0 1 984.5,1113.6"/>
<path fill="none" stroke="#1c5a9c" d="M1341.0,1193.8 A622.0,622.0 0 0 1 1619.7,1077.9"/>
<path fill="none" stroke="#1c5a9c" d="M1129.9,1067.7 A854.3,854.3 0 0 1 1278.3,957.0"/>
<path fill="none" stroke="#1c5a9c" d="M1180.4,926.6 A932.7,932.7 0 0 1 1297.8,857.3"/>
<path fill="none" stroke="#1c5a9c" d="M1496.2,1026.2 A700.8,700.8 0 0 1 1721.5,992.2"/>
<path fill="none" stroke="#7ab547" d="M1579.2,926.5 A777.9,777.9 0 0 1 1721.5,915.1"/>
<path fill="none" stroke="#1c5a9c" d="M1721.5,912.7 A780.4,780.4 0 0 1 1862.2,927.2"/>
<path fill="none" stroke="#1c5a9c" d="M1752.6,837.1 A856.9,856.9 0 0 1 1995.8,884.5"/>
<path fill="none" stroke="#1c5a9c" d="M1688.4,759.1 A934.2,934.2 0 0 1 1824.9,765.6"/>
<path fill="none" stroke="#1c5a9c" d="M1956.7,790.7 A934.9,934.9 0 0 1 2084.7,835.6"/>
<path fill="none" stroke="#b98c22" d="M2098.6,1200.7 A626.0,626.0 0 0 1 2296.5,1469.0"/>
<path fill="none" stroke="#b98c22" d="M2164.1,962.6 A859.0,859.0 0 0 1 2310.7,1077.1"/>
<path fill="none" stroke="#b98c22" d="M2315.2,975.8 A937.2,937.2 0 0 1 2412.2,1070.1"/>
<path fill="none" stroke="#7ab547" d="M2293.9,1302.5 A700.8,700.8 0 0 1 2366.1,1441.6"/>
<path fill="none" stroke="#b98c22" d="M2363.4,1442.6 A697.9,697.9 0 0 1 2401.9,1588.0"/>
<path fill="none" stroke="#b98c22" d="M2440.6,1414.5 A780.0,780.0 0 0 1 2490.1,1747.7"/>
<path fill="none" stroke="#b98c22" d="M2560.3,1297.2 A936.0,936.0 0 0 1 2608.1,1422.3"/>
<path fill="none" stroke="#b98c22" d="M2566.8,1628.4 A857.2,857.2 0 0 1 2549.4,1876.1"/>
<path fill="none" stroke="#b98c22" d="M2637.5,1555.9 A935.6,935.6 0 0 1 2647.6,1690.5"/>
<path fill="none" stroke="#b98c22" d="M2637.6,1826.2 A935.2,935.2 0 0 1 2608.9,1957.7"/>
<path fill="none" stroke="#c4161c" d="M2052.4,1878.1 A387.5,387.5 0 0 1 1804.2,2069.4"/>
<path fill="none" stroke="#c4161c" d="M2559.6,2084.6 A933.7,933.7 0 0 1 2494.7,2202.1"/>
<path fill="none" stroke="#7ab547" d="M2063.0,2000.8 A466.9,466.9 0 0 1 1820.8,2147.0"/>
<path fill="none" stroke="#c4161c" d="M1820.0,2143.5 A463.3,463.3 0 0 1 1538.2,2122.4"/>
<path fill="none" stroke="#c4161c" d="M1247.6,1969.8 A540.7,540.7 0 0 0 1850.7,2215.6"/>
<path fill="none" stroke="#c4161c" d="M1109.9,1828.5 A617.2,617.2 0 0 0 1305.6,2157.5"/>
<path fill="none" stroke="#c4161c" d="M1017.2,1687.3 A694.8,694.8 0 0 0 1085.8,1994.1"/>
<path fill="none" stroke="#c4161c" d="M950.4,1560.7 A773.0,773.0 0 0 0 948.8,1815.1"/>
<path fill="none" stroke="#c4161c" d="M894.5,1457.7 A850.7,850.7 0 0 0 862.9,1640.7"/>
<path fill="none" stroke="#c4161c" d="M840.2,1371.7 A929.1,929.1 0 0 0 802.7,1502.2"/>
<path fill="none" stroke="#c4161c" d="M849.8,2034.8 A927.5,927.5 0 0 0 908.4,2156.1"/>
<path fill="none" stroke="#c4161c" d="M1085.8,2267.4 A849.7,849.7 0 0 0 1225.2,2389.5"/>
<path fill="none" stroke="#c4161c" d="M984.1,2268.2 A927.8,927.8 0 0 0 1074.9,2367.4"/>
<path fill="none" stroke="#c4161c" d="M1670.0,2388.9 A697.2,697.2 0 0 0 2092.8,2277.0"/>
<path fill="none" stroke="#c4161c" d="M1525.4,2444.0 A773.8,773.8 0 0 0 1804.6,2461.3"/>
<path fill="none" stroke="#c4161c" d="M1388.7,2480.2 A851.0,851.0 0 0 0 1629.0,2540.0"/>
<path fill="none" stroke="#c4161c" d="M1298.0,2523.4 A927.9,927.9 0 0 0 1421.9,2574.4"/>
<path fill="none" stroke="#c4161c" d="M1552.8,2607.6 A928.4,928.4 0 0 0 1686.0,2621.0"/>
<path fill="none" stroke="#c4161c" d="M2049.8,2392.4 A776.7,776.7 0 0 0 2214.6,2285.2"/>
<path fill="none" stroke="#c4161c" d="M1996.6,2497.4 A853.3,853.3 0 0 0 2163.8,2416.8"/>
<path fill="none" stroke="#c4161c" d="M1957.9,2590.3 A930.4,930.4 0 0 0 2084.9,2545.4"/>
<line x1="1754.3" y1="1621.7" x2="1789.5" y2="1557.6" stroke="#4e4646"/>
<line x1="1869.2" y1="1713.4" x2="2022.5" y2="1735.2" stroke="#8c8c8c"/>
<line x1="1617.4" y1="1568.5" x2="1371.1" y2="1271.1" stroke="#1c5a9c"/>
<line x1="1267.6" y1="1382.4" x2="945.7" y2="1169.2" stroke="#1c5a9c"/>
<line x1="909.4" y1="1224.5" x2="842.1" y2="1185.7" stroke="#1c5a9c"/>
<line x1="984.0" y1="1113.2" x2="924.4" y2="1063.0" stroke="#1c5a9c"/>
<line x1="1503.1" y1="1190.9" x2="1472.0" y2="1118.4" stroke="#1c5a9c"/>
<line x1="1341.6" y1="1194.5" x2="1202.9" y2="1012.3" stroke="#1c5a9c"/>
<line x1="1130.4" y1="1068.2" x2="1023.3" y2="956.4" stroke="#1c5a9c"/>
<line x1="1278.0" y1="956.4" x2="1240.7" y2="892.2" stroke="#1c5a9c"/>
<line x1="1180.6" y1="926.9" x2="1137.2" y2="862.2" stroke="#1c5a9c"/>
<line x1="1297.6" y1="857.0" x2="1263.5" y2="787.2" stroke="#1c5a9c"/>
<line x1="1619.6" y1="1077.0" x2="1610.2" y2="999.4" stroke="#1c5a9c"/>
<line x1="1496.4" y1="1026.8" x2="1398.0" y2="731.8" stroke="#1c5a9c"/>
<line x1="1721.5" y1="991.6" x2="1721.5" y2="913.3" stroke="#1c5a9c"/>
<line x1="1579.5" y1="928.3" x2="1539.3" y2="692.4" stroke="#7ab547"/>
<line x1="1862.3" y1="926.6" x2="1876.0" y2="852.0" stroke="#1c5a9c"/>
<line x1="1752.6" y1="837.6" x2="1755.9" y2="758.5" stroke="#1c5a9c"/>
<line x1="1688.4" y1="759.7" x2="1686.3" y2="681.0" stroke="#1c5a9c"/>
<line x1="1825.0" y1="765.0" x2="1833.3" y2="686.4" stroke="#1c5a9c"/>
<line x1="1996.0" y1="884.0" x2="2020.9" y2="812.3" stroke="#1c5a9c"/>
<line x1="1956.7" y1="790.8" x2="1977.4" y2="715.4" stroke="#1c5a9c"/>
<line x1="2084.7" y1="835.5" x2="2110.8" y2="773.4" stroke="#1c5a9c"/>
<line x1="1965.7" y1="1504.0" x2="2215.0" y2="1323.1" stroke="#b98c22"/>
<line x1="2099.1" y1="1200.1" x2="2239.0" y2="1018.8" stroke="#b98c22"/>
<line x1="2164.5" y1="962.0" x2="2258.5" y2="838.6" stroke="#b98c22"/>
<line x1="2310.2" y1="1077.6" x2="2363.2" y2="1022.9" stroke="#b98c22"/>
<line x1="2315.6" y1="975.3" x2="2364.0" y2="918.1" stroke="#b98c22"/>
<line x1="2411.7" y1="1070.5" x2="2468.8" y2="1020.0" stroke="#b98c22"/>
<line x1="2295.8" y1="1469.3" x2="2364.0" y2="1442.4" stroke="#b98c22"/>
<line x1="2295.8" y1="1301.2" x2="2557.9" y2="1136.8" stroke="#7ab547"/>
<line x1="2401.3" y1="1588.1" x2="2482.1" y2="1576.6" stroke="#b98c22"/>
<line x1="2441.5" y1="1414.2" x2="2583.5" y2="1360.4" stroke="#b98c22"/>
<line x1="2560.8" y1="1297.0" x2="2629.1" y2="1265.1" stroke="#b98c22"/>
<line x1="2607.5" y1="1422.5" x2="2680.9" y2="1401.8" stroke="#b98c22"/>
<line x1="2489.1" y1="1747.6" x2="2567.0" y2="1750.5" stroke="#b98c22"/>
<line x1="2567.0" y1="1628.4" x2="2642.3" y2="1622.2" stroke="#b98c22"/>
<line x1="2637.4" y1="1555.9" x2="2714.0" y2="1544.7" stroke="#b98c22"/>
<line x1="2647.7" y1="1690.5" x2="2725.2" y2="1690.5" stroke="#b98c22"/>
<line x1="2549.2" y1="1876.0" x2="2622.9" y2="1890.5" stroke="#b98c22"/>
<line x1="2638.2" y1="1826.3" x2="2714.0" y2="1836.2" stroke="#b98c22"/>
<line x1="2608.4" y1="1957.5" x2="2682.1" y2="1979.5" stroke="#b98c22"/>
<line x1="1902.0" y1="1938.9" x2="1947.5" y2="2000.0" stroke="#c4161c"/>
<line x1="2054.7" y1="1879.4" x2="2527.6" y2="2143.1" stroke="#c4161c"/>
<line x1="2559.9" y1="2084.7" x2="2629.9" y2="2116.1" stroke="#c4161c"/>
<line x1="2494.5" y1="2201.9" x2="2558.7" y2="2244.5" stroke="#c4161c"/>
<line x1="1803.6" y1="2066.8" x2="1820.2" y2="2144.4" stroke="#c4161c"/>
<line x1="2065.0" y1="2002.6" x2="2468.7" y2="2360.8" stroke="#7ab547"/>
<line x1="1538.5" y1="2121.6" x2="1510.0" y2="2192.5" stroke="#c4161c"/>
<line x1="1249.2" y1="1968.8" x2="1184.0" y2="2006.1" stroke="#c4161c"/>
<line x1="1109.8" y1="1828.5" x2="1034.9" y2="1844.6" stroke="#c4161c"/>
<line x1="1017.1" y1="1687.9" x2="940.4" y2="1687.9" stroke="#c4161c"/>
<line x1="949.5" y1="1815.0" x2="704.1" y2="1852.5" stroke="#c4161c"/>
<line x1="949.7" y1="1560.6" x2="873.6" y2="1548.8" stroke="#c4161c"/>
<line x1="863.7" y1="1640.7" x2="707.5" y2="1631.4" stroke="#c4161c"/>
<line x1="893.8" y1="1457.5" x2="820.2" y2="1436.3" stroke="#c4161c"/>
<line x1="840.1" y1="1371.7" x2="767.4" y2="1345.3" stroke="#c4161c"/>
<line x1="802.8" y1="1502.2" x2="727.0" y2="1486.6" stroke="#c4161c"/>
<line x1="1086.6" y1="1993.7" x2="878.6" y2="2094.2" stroke="#c4161c"/>
<line x1="850.1" y1="2034.7" x2="777.6" y2="2062.1" stroke="#c4161c"/>
<line x1="908.1" y1="2156.3" x2="842.3" y2="2194.1" stroke="#c4161c"/>
<line x1="1305.6" y1="2157.4" x2="1152.9" y2="2332.3" stroke="#c4161c"/>
<line x1="1085.6" y1="2267.6" x2="1031.3" y2="2319.4" stroke="#c4161c"/>
<line x1="983.6" y1="2268.6" x2="925.2" y2="2315.2" stroke="#c4161c"/>
<line x1="1075.3" y1="2367.0" x2="1023.5" y2="2425.5" stroke="#c4161c"/>
<line x1="1225.4" y1="2389.2" x2="1137.4" y2="2517.1" stroke="#c4161c"/>
<line x1="1851.2" y1="2217.4" x2="1889.0" y2="2367.0" stroke="#c4161c"/>
<line x1="1670.1" y1="2387.7" x2="1663.9" y2="2464.3" stroke="#c4161c"/>
<line x1="1525.5" y1="2443.6" x2="1507.5" y2="2517.1" stroke="#c4161c"/>
<line x1="1804.7" y1="2461.7" x2="1832.1" y2="2691.0" stroke="#c4161c"/>
<line x1="1388.4" y1="2480.8" x2="1359.9" y2="2549.7" stroke="#c4161c"/>
<line x1="1297.8" y1="2523.8" x2="1263.1" y2="2591.1" stroke="#c4161c"/>
<line x1="1422.0" y1="2574.0" x2="1397.7" y2="2648.0" stroke="#c4161c"/>
<line x1="1629.1" y1="2539.3" x2="1621.3" y2="2614.4" stroke="#c4161c"/>
<line x1="1553.0" y1="2606.6" x2="1539.5" y2="2681.7" stroke="#c4161c"/>
<line x1="1686.0" y1="2622.1" x2="1683.4" y2="2697.2" stroke="#c4161c"/>
<line x1="2093.5" y1="2278.0" x2="2133.9" y2="2341.6" stroke="#c4161c"/>
<line x1="2215.1" y1="2285.7" x2="2363.7" y2="2463.3" stroke="#c4161c"/>
<line x1="2049.5" y1="2391.8" x2="2080.5" y2="2463.3" stroke="#c4161c"/>
<line x1="2164.4" y1="2417.7" x2="2243.6" y2="2548.6" stroke="#c4161c"/>
<line x1="1996.2" y1="2496.4" x2="2020.0" y2="2568.8" stroke="#c4161c"/>
<line x1="1957.4" y1="2588.5" x2="1977.0" y2="2663.6" stroke="#c4161c"/>
<line x1="2085.7" y1="2547.1" x2="2114.2" y2="2617.0" stroke="#c4161c"/>
</g>
<text x="0" y="0" transform="translate(1747.7,1590.1) rotate(-61.23)" class="b">0.026</text>
<text x="0" y="0" transform="translate(1949.2,1700.5) rotate(8.09)" class="b" font-style="italic">0.1045</text>
<text x="0" y="0" transform="translate(1532.3,1415.6) rotate(-309.63)" class="b">0.026</text>
<text x="0" y="0" transform="translate(1127.8,1261.0) rotate(-326.48)" class="b">0.0492</text>
<text x="0" y="0" transform="translate(898.1,1190.3) rotate(-330.04)" class="b">0.5188</text>
<text x="0" y="0" transform="translate(978.8,1077.5) rotate(-319.89)" class="b">0.3771</text>
<text x="0" y="0" transform="translate(1521.0,1156.6) rotate(-293.22)" class="b">0.2151</text>
<text x="0" y="0" transform="translate(1295.6,1094.4) rotate(-307.28)" class="b">0.0948</text>
<text x="0" y="0" transform="translate(1099.0,1000.8) rotate(-313.77)" class="b">0.0894</text>
<text x="0" y="0" transform="translate(1289.1,927.8) rotate(-300.16)" class="b">0.0223</text>
<text x="0" y="0" transform="translate(1185.5,891.1) rotate(-303.85)" class="b">0.0529</text>
<text x="0" y="0" transform="translate(1307.4,822.3) rotate(-296.04)" class="b">0.0517</text>
<text x="0" y="0" transform="translate(1640.2,1047.2) rotate(-276.91)" class="b">0.0332</text>
<text x="0" y="0" transform="translate(1472.5,879.3) rotate(-288.45)" class="b">0.1682</text>
<text x="0" y="0" transform="translate(1745.5,971.5) rotate(-90.00)" class="b">0.0236</text>
<text x="0" y="0" transform="translate(1584.2,813.2) rotate(-279.67)" class="b">0.1246</text>
<text x="0" y="0" transform="translate(1840.8,910.5) rotate(-79.59)" class="b">0.0123</text>
<text x="0" y="0" transform="translate(1737.6,801.2) rotate(-87.61)" class="b">0.0511</text>
<text x="0" y="0" transform="translate(1663.7,733.0) rotate(-91.53)" class="b">0.0718</text>
<text x="0" y="0" transform="translate(1804.0,735.1) rotate(-83.97)" class="b">0.0449</text>
<text x="0" y="0" transform="translate(1981.8,851.6) rotate(-70.85)" class="b">0.0059</text>
<text x="0" y="0" transform="translate(1940.7,758.3) rotate(-74.65)" class="b">0.0977</text>
<text x="0" y="0" transform="translate(2071.0,806.2) rotate(-67.20)" class="b">0.0816</text>
<text x="0" y="0" transform="translate(2079.5,1391.8) rotate(-35.97)" class="b">0.1316</text>
<text x="0" y="0" transform="translate(2148.2,1097.2) rotate(-52.34)" class="b">0.0933</text>
<text x="0" y="0" transform="translate(2193.6,884.2) rotate(-52.70)" class="b">0.1126</text>
<text x="0" y="0" transform="translate(2304.9,1048.6) rotate(-45.90)" class="b">0.0465</text>
<text x="0" y="0" transform="translate(2313.7,940.4) rotate(-49.76)" class="b">0.0426</text>
<text x="0" y="0" transform="translate(2415.4,1035.2) rotate(-41.49)" class="b">0.0501</text>
<text x="0" y="0" transform="translate(2292.3,1444.9) rotate(-21.53)" class="b">0.0844</text>
<text x="0" y="0" transform="translate(2392.1,1212.5) rotate(-32.10)" class="b">0.1274</text>
<text x="0" y="0" transform="translate(2441.3,1558.2) rotate(-8.10)" class="b">0.0187</text>
<text x="0" y="0" transform="translate(2506.8,1363.8) rotate(-20.75)" class="b">0.0358</text>
<text x="0" y="0" transform="translate(2573.9,1264.4) rotate(-25.04)" class="b">0.113</text>
<text x="0" y="0" transform="translate(2618.4,1394.5) rotate(-15.75)" class="b">0.0586</text>
<text x="0" y="0" transform="translate(2534.9,1725.3) rotate(2.13)" class="b" font-style="italic">0.0261</text>
<text x="0" y="0" transform="translate(2580.8,1603.2) rotate(-4.71)" class="b">0.0247</text>
<text x="0" y="0" transform="translate(2650.5,1529.7) rotate(-8.32)" class="b" font-style="italic">0.0697</text>
<text x="0" y="0" transform="translate(2669.4,1666.5) rotate(0.00)" class="b">0.047</text>
<text x="0" y="0" transform="translate(2597.6,1861.1) rotate(11.13)" class="b" font-style="italic">0.0306</text>
<text x="0" y="0" transform="translate(2657.4,1804.6) rotate(7.44)" class="b" font-style="italic">0.0456</text>
<text x="0" y="0" transform="translate(2631.0,1939.2) rotate(16.62)" class="b" font-style="italic">0.0448</text>
<text x="0" y="0" transform="translate(1936.8,1945.5) rotate(53.33)" class="b">0.0326</text>
<text x="0" y="0" transform="translate(2314.4,1992.2) rotate(29.15)" class="b">0.0978</text>
<text x="0" y="0" transform="translate(2593.8,2073.6) rotate(24.16)" class="b">0.1818</text>
<text x="0" y="0" transform="translate(2529.9,2196.6) rotate(33.57)" class="b">0.1814</text>
<text x="0" y="0" transform="translate(1831.0,2080.0) rotate(77.93)" class="b">0.0628</text>
<text x="0" y="0" transform="translate(2290.3,2170.4) rotate(41.58)" class="b">0.2174</text>
<text x="0" y="0" transform="translate(1508.7,2131.4) rotate(-68.10)" class="b">0.01</text>
<text x="0" y="0" transform="translate(1215.1,1960.7) rotate(-29.77)" class="b">0.0306</text>
<text x="0" y="0" transform="translate(1074.2,1811.6) rotate(-12.13)" class="b">0.0474</text>
<text x="0" y="0" transform="translate(990.8,1663.9) rotate(0.00)" class="b">0.08</text>
<text x="0" y="0" transform="translate(852.8,1805.5) rotate(-8.69)" class="b">0.0549</text>
<text x="0" y="0" transform="translate(924.7,1532.4) rotate(-351.19)" class="b" font-style="italic">0.0251</text>
<text x="0" y="0" transform="translate(799.0,1612.8) rotate(-356.59)" class="b">0.0408</text>
<text x="0" y="0" transform="translate(879.0,1428.3) rotate(-343.93)" class="b" font-style="italic">0.0091</text>
<text x="0" y="0" transform="translate(823.2,1340.0) rotate(-340.04)" class="b" font-style="italic">0.0256</text>
<text x="0" y="0" transform="translate(781.5,1473.3) rotate(-348.37)" class="b" font-style="italic">0.046</text>
<text x="0" y="0" transform="translate(975.8,2020.6) rotate(-25.79)" class="b">0.0318</text>
<text x="0" y="0" transform="translate(816.6,2021.7) rotate(-20.70)" class="b">0.1176</text>
<text x="0" y="0" transform="translate(873.7,2148.4) rotate(-29.88)" class="b">0.1148</text>
<text x="0" y="0" transform="translate(1219.1,2220.0) rotate(-48.88)" class="b">0.0633</text>
<text x="0" y="0" transform="translate(1050.6,2267.9) rotate(-43.65)" class="b">0.0069</text>
<text x="0" y="0" transform="translate(948.8,2265.7) rotate(-38.59)" class="b">0.0455</text>
<text x="0" y="0" transform="translate(1039.4,2371.4) rotate(-48.48)" class="b">0.0496</text>
<text x="0" y="0" transform="translate(1164.5,2435.4) rotate(-55.47)" class="b">0.0526</text>
<text x="0" y="0" transform="translate(1893.9,2288.3) rotate(75.82)" class="b">0.0499</text>
<text x="0" y="0" transform="translate(1644.0,2412.1) rotate(-85.37)" class="b">0.0403</text>
<text x="0" y="0" transform="translate(1496.0,2463.0) rotate(-76.24)" class="b">0.0101</text>
<text x="0" y="0" transform="translate(1843.1,2580.5) rotate(83.19)" class="b">0.0628</text>
<text x="0" y="0" transform="translate(1356.6,2495.0) rotate(-67.53)" class="b">0.022</text>
<text x="0" y="0" transform="translate(1264.6,2535.8) rotate(-62.72)" class="b">0.0016</text>
<text x="0" y="0" transform="translate(1390.8,2592.1) rotate(-71.82)" class="b">0.0027</text>
<text x="0" y="0" transform="translate(1602.6,2562.4) rotate(-84.07)" class="b">0.0479</text>
<text x="0" y="0" transform="translate(1523.3,2636.0) rotate(-79.81)" class="b">0.0051</text>
<text x="0" y="0" transform="translate(1661.1,2646.8) rotate(-88.02)" class="b">0.0079</text>
<text x="0" y="0" transform="translate(2127.5,2286.8) rotate(57.58)" class="b">0.0128</text>
<text x="0" y="0" transform="translate(2311.7,2363.7) rotate(50.08)" class="b">0.0648</text>
<text x="0" y="0" transform="translate(2082.2,2407.0) rotate(66.56)" class="b">0.0423</text>
<text x="0" y="0" transform="translate(2229.2,2478.4) rotate(58.82)" class="b">0.0562</text>
<text x="0" y="0" transform="translate(2024.3,2505.2) rotate(71.80)" class="b">0.0298</text>
<text x="0" y="0" transform="translate(1987.4,2608.4) rotate(75.37)" class="b">0.0308</text>
<text x="0" y="0" transform="translate(2117.6,2561.9) rotate(67.82)" class="b">0.0501</text>
<text class="t" text-anchor="end" transform="translate(814.0,1171.7) rotate(30.25)" x="0" y="6.0">Seita.8G105300.1.p</text>
<text class="t" text-anchor="end" transform="translate(898.4,1057.7) rotate(38.66)" x="0" y="6.0">LOC Os01g54515.1</text>
<text class="t" text-anchor="end" transform="translate(995.4,939.2) rotate(46.92)" x="0" y="6.0">ZmNRT1.2</text>
<text class="t" text-anchor="end" transform="translate(1118.3,849.7) rotate(55.32)" x="0" y="6.0">Seita.4G231500.1.p</text>
<text class="t" text-anchor="end" transform="translate(1256.8,770.6) rotate(63.66)" x="0" y="6.0">LOC Os06g38294.1</text>
<text class="t" text-anchor="end" transform="translate(1392.2,713.3) rotate(71.91)" x="0" y="6.0">Potri.012G070700.1.p</text>
<text class="g" text-anchor="end" transform="translate(1532.1,676.8) rotate(80.21)" x="0" y="6.0">AtNRT1.2</text>
<text class="t" text-anchor="end" transform="translate(1683.3,666.3) rotate(88.55)" x="0" y="6.0">Manes.01G190800.3.p</text>
<text class="t" text-anchor="start" transform="translate(1833.7,683.3) rotate(276.87)" x="0" y="14.0">Manes.05G096200.1.p</text>
<text class="t" text-anchor="start" transform="translate(1978.5,711.5) rotate(285.19)" x="0" y="14.0">Gohir.D13G068800.1.p</text>
<text class="t" text-anchor="start" transform="translate(2117.5,760.3) rotate(293.50)" x="0" y="14.0">Potri.010G034300.1.p</text>
<text class="t" text-anchor="start" transform="translate(2269.9,828.7) rotate(301.80)" x="0" y="14.0">LOC Os04g39030.1</text>
<text class="t" text-anchor="start" transform="translate(2366.8,914.8) rotate(310.08)" x="0" y="14.0">Seita.1G210500.1.p</text>
<text class="t" text-anchor="start" transform="translate(2471.9,1017.1) rotate(318.35)" x="0" y="14.0">ZmNRT1.3</text>
<text class="g" text-anchor="start" transform="translate(2561.7,1134.2) rotate(326.67)" x="0" y="14.0">AtNRT1.3</text>
<text class="t" text-anchor="start" transform="translate(2633.6,1263.0) rotate(334.99)" x="0" y="14.0">Gohir.A11G153400.1.p</text>
<text class="t" text-anchor="start" transform="translate(2686.0,1400.2) rotate(343.27)" x="0" y="14.0">Gohir.A07G169200.1.p</text>
<text class="t" text-anchor="start" transform="translate(2718.0,1544.1) rotate(351.58)" x="0" y="14.0">Manes.12G070700.1.p</text>
<text class="t" text-anchor="start" transform="translate(2729.0,1690.5) rotate(359.86)" x="0" y="14.0">Manes.13G067000.1.p</text>
<text class="t" text-anchor="start" transform="translate(2718.8,1836.8) rotate(8.13)" x="0" y="14.0">Potri.002G225500.2.p</text>
<text class="t" text-anchor="start" transform="translate(2687.4,1981.0) rotate(16.45)" x="0" y="14.0">Potri.014G157500.1.p</text>
<text class="t" text-anchor="start" transform="translate(2635.6,2118.8) rotate(24.75)" x="0" y="14.0">Manes.14G131900.1.p</text>
<text class="t" text-anchor="start" transform="translate(2564.2,2248.1) rotate(33.08)" x="0" y="14.0">Seita.5G195000.1.p</text>
<text class="g" text-anchor="start" transform="translate(2474.5,2366.0) rotate(41.43)" x="0" y="14.0">AtNRT1.1</text>
<text class="t" text-anchor="start" transform="translate(2368.8,2469.4) rotate(49.77)" x="0" y="14.0"><tspan letter-spacing="2">PtNRT1.1</tspan></text>
<text class="t" text-anchor="start" transform="translate(2248.7,2556.9) rotate(58.15)" x="0" y="14.0">Manes.02G037300.1.p</text>
<text class="t" text-anchor="start" transform="translate(2117.9,2625.5) rotate(66.48)" x="0" y="14.0">Manes.01G077800.1.p</text>
<text class="t" text-anchor="start" transform="translate(1979.8,2674.1) rotate(74.73)" x="0" y="14.0">Manes.01G077900.1.p</text>
<text class="t" text-anchor="start" transform="translate(1833.5,2702.7) rotate(83.14)" x="0" y="14.0">Gohir.A08G171200.1.p</text>
<text class="t" text-anchor="end" transform="translate(1685.4,2722.7) rotate(-88.50)" x="0" y="6.0">Gohir.D03G161800.1.p</text>
<text class="t" text-anchor="end" transform="translate(1537.1,2694.9) rotate(-80.10)" x="0" y="6.0">Gohir.<tspan font-style="normal">A03G009000</tspan>.1.p</text>
<text class="t" text-anchor="end" transform="translate(1394.0,2659.0) rotate(-71.78)" x="0" y="6.0">Gohir.D03G161700.1.p</text>
<text class="t" text-anchor="end" transform="translate(1248.3,2618.7) rotate(-63.44)" x="0" y="6.0">Gohir.A03G009200.1.p</text>
<text class="t" text-anchor="end" transform="translate(1126.3,2545.2) rotate(-55.11)" x="0" y="6.0">OsNRT1.1A</text>
<text class="t" text-anchor="end" transform="translate(1024.4,2447.0) rotate(-46.77)" x="0" y="6.0">Seita.6G058300.1.p</text>
<text class="t" text-anchor="end" transform="translate(921.3,2342.9) rotate(-38.34)" x="0" y="6.0">ZmNRT1.1A</text>
<text class="t" text-anchor="end" transform="translate(841.8,2216.7) rotate(-29.95)" x="0" y="6.0">ZmNRT1.1D</text>
<text class="t" text-anchor="end" transform="translate(770.1,2079.6) rotate(-21.55)" x="0" y="6.0">OsNRT1.1C</text>
<text class="t" text-anchor="end" transform="translate(689.5,1871.1) rotate(-9.00)" x="0" y="6.0">OsNRT1.1B</text>
<text class="t" text-anchor="end" transform="translate(696.9,1630.7) rotate(3.51)" x="0" y="6.0">Seita.9G327900.1.p</text>
<text class="t" text-anchor="end" transform="translate(709.6,1484.5) rotate(11.83)" x="0" y="6.0">ZmNRT1.1C</text>
<text class="t" text-anchor="end" transform="translate(744.6,1341.7) rotate(20.21)" x="0" y="6.0">ZmNRT1.1B</text>
<text class="h" transform="translate(1063.6,52.8) rotate(-17.4)" x="0" y="21">NRT1.2</text>
<text class="h" transform="translate(3325,946) rotate(66.8)" x="0" y="21">NRT1.3</text>
<text class="h" letter-spacing="5" transform="translate(747,3201) rotate(213.6)" x="0" y="21">NRT1.1</text>
</svg></body></html>
